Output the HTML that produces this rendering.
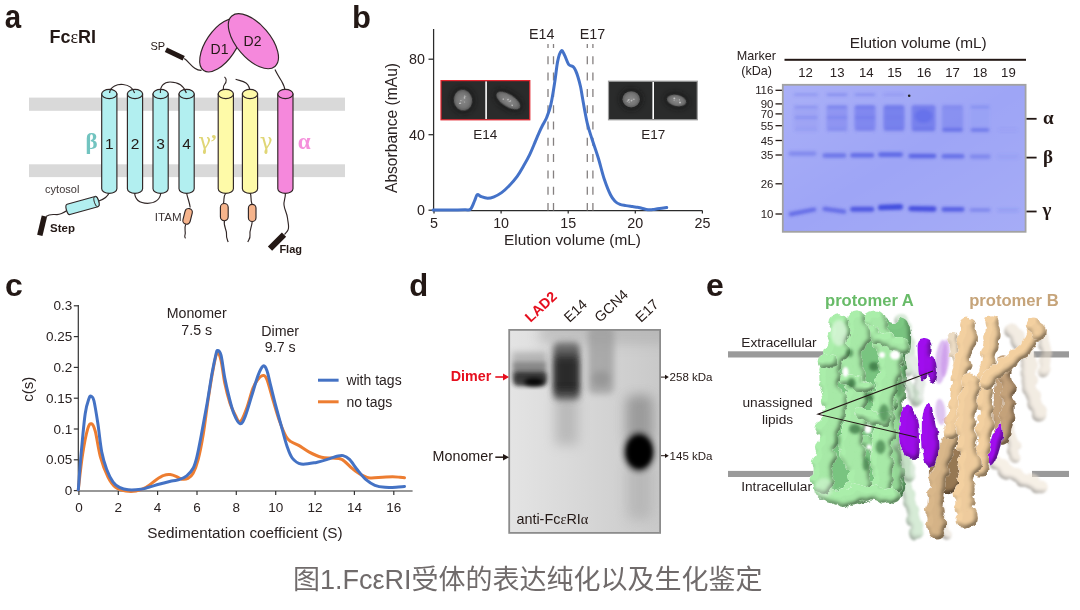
<!DOCTYPE html>
<html><head><meta charset="utf-8"><style>
html,body{margin:0;padding:0;background:#fff;}
body{width:1080px;height:610px;overflow:hidden;position:relative;}
svg{position:absolute;left:0;top:0;}
svg{font-family:'Liberation Sans', Arial, sans-serif;}
.cap{position:absolute;left:293px;top:560px;white-space:nowrap;font-family:'Liberation Sans','Noto Sans CJK SC',sans-serif;font-size:27px;line-height:40px;color:#706b6b;}
</style></head><body>
<svg width="1080" height="610" viewBox="0 0 1080 610">
<defs>
<radialGradient id="pgrad"><stop offset="0" stop-color="#8a8a8a"/><stop offset="0.7" stop-color="#747474"/><stop offset="1" stop-color="#5a5a5a"/></radialGradient>
<filter id="blur05" x="-20%" y="-20%" width="140%" height="140%"><feGaussianBlur stdDeviation="0.5"/></filter>
<filter id="blur2" x="-50%" y="-50%" width="200%" height="200%"><feGaussianBlur stdDeviation="2"/></filter>
<linearGradient id="gelgrad" x1="0" y1="0" x2="1" y2="1"><stop offset="0" stop-color="#fff" stop-opacity="0.12"/><stop offset="0.5" stop-color="#fff" stop-opacity="0"/><stop offset="1" stop-color="#fff" stop-opacity="0.08"/></linearGradient>
<filter id="gblur" x="-10%" y="-10%" width="120%" height="120%"><feGaussianBlur stdDeviation="1.4"/></filter>
<filter id="eblur" x="-10%" y="-10%" width="120%" height="120%"><feGaussianBlur stdDeviation="0.9"/></filter>
<filter id="shade3d" x="-8%" y="-8%" width="116%" height="116%">
  <feTurbulence type="fractalNoise" baseFrequency="0.11" numOctaves="2" seed="7" result="noise"/>
  <feDisplacementMap in="SourceGraphic" in2="noise" scale="6" xChannelSelector="R" yChannelSelector="G" result="disp"/>
  <feGaussianBlur in="disp" stdDeviation="2.4" result="blur"/>
  <feDiffuseLighting in="blur" surfaceScale="4.5" diffuseConstant="1" lighting-color="#fff" result="light"><feDistantLight azimuth="235" elevation="48"/></feDiffuseLighting>
  <feComponentTransfer in="light" result="light2"><feFuncR type="linear" slope="0.85" intercept="0.32"/><feFuncG type="linear" slope="0.85" intercept="0.32"/><feFuncB type="linear" slope="0.85" intercept="0.32"/></feComponentTransfer>
  <feComposite in="light2" in2="disp" operator="in" result="lightin"/>
  <feBlend in="disp" in2="lightin" mode="multiply" result="shaded"/>
  <feGaussianBlur in="shaded" stdDeviation="0.5"/>
</filter>
<filter id="shadeSoft" x="-5%" y="-5%" width="110%" height="110%">
  <feGaussianBlur in="SourceAlpha" stdDeviation="2.5" result="blur"/>
  <feDiffuseLighting in="blur" surfaceScale="3" diffuseConstant="1.35" lighting-color="#fff" result="light"><feDistantLight azimuth="300" elevation="50"/></feDiffuseLighting>
  <feComposite in="light" in2="SourceAlpha" operator="in" result="lightin"/>
  <feBlend in="SourceGraphic" in2="lightin" mode="multiply" result="shaded"/>
  <feGaussianBlur in="shaded" stdDeviation="1.2"/>
</filter>
<filter id="cblur" x="-50%" y="-50%" width="200%" height="200%"><feGaussianBlur stdDeviation="1.8"/></filter>
</defs>
<text transform="translate(4.7,27.6) scale(0.92,1.04)" font-size="32" font-weight="bold" fill="#231815">a</text>
<text x="49.5" y="42.5" font-size="18" font-weight="bold" fill="#231815">Fc<tspan font-family="'Liberation Serif', 'Times New Roman', serif" font-weight="normal">ε</tspan>RI</text>
<rect x="29" y="97.6" width="316" height="13.2" fill="#d9d9d9"/>
<rect x="29" y="164.3" width="316" height="12.8" fill="#d9d9d9"/>
<ellipse cx="220.8" cy="45.3" rx="30.5" ry="15" transform="rotate(-56 220.8 45.3)" fill="#f588dc" stroke="#302626" stroke-width="1.15"/>
<ellipse cx="253.4" cy="41.2" rx="33.2" ry="16.8" transform="rotate(49.5 253.4 41.2)" fill="#f588dc" stroke="#302626" stroke-width="1.15"/>
<text x="210.6" y="53.6" font-size="14" fill="#231815">D1</text>
<text x="243.6" y="45.6" font-size="14" fill="#231815">D2</text>
<text x="150.4" y="49.8" font-size="11" fill="#231815">SP</text>
<line x1="165.9" y1="49.8" x2="183.7" y2="58.3" stroke="#231815" stroke-width="5"/>
<g fill="none" stroke="#302626" stroke-width="1.15">
<path d="M184.2,58.6 C188,61 191,66 194.8,68.3 C197,69.8 199,70.5 201.5,70.4"/>
<path d="M275,69.5 C276.5,73 279,77 281.5,81 C284,85 285.2,88 285.4,93.5"/>
<path d="M225.8,93.5 C223,90 222.5,87 224.5,84.5 C226.5,82 226.8,79 224.5,76.8"/>
<path d="M250.2,93.5 C250,89 249,85 246,83 C243,81 239,80.5 235.6,79.2"/>
</g>
<g fill="none" stroke="#302626" stroke-width="1.15">
<path d="M134.6,192 C134.8,200 140.5,203.3 147.6,203.3 C154.5,203.3 160.6,200 160.8,192"/>
<path d="M109.3,192 C108,197 104,199.5 97.5,201.5"/>
<path d="M67.5,210.2 C64,212.5 61,214.5 57,214.6 C53,214.6 50,213.5 46,216.5"/>
<path d="M186.6,193 C187.5,198 189.5,202 190.2,207.5"/>
<path d="M185.7,224.5 C184,228 185.6,231 185.2,234 C184.8,236 184,237 185.5,238.4"/>
<path d="M225.8,193 C223,197 224.5,199 223.5,203.5"/>
<path d="M224.5,220.5 C223,226 227,230 226.5,234 C226,238 227.5,240 228.2,242"/>
<path d="M250.2,193 C252,197 250,199 252,204.3"/>
<path d="M252.2,221.5 C252,227 249,231 250,235 C250.5,238 248.5,240 247.8,242"/>
<path d="M285.4,193 C285.6,198 283.5,201 284,205 C284.5,210 287,213 287.5,218 C288,223 289.5,227 288,230 C287,232 285.5,233 284.5,234.5"/>
</g>
<path d="M101.7,94 L101.7,188.8 A7.6,4.6 0 0 0 116.9,188.8 L116.9,94 Z" fill="#b2eff0" stroke="#302626" stroke-width="1.15"/>
<ellipse cx="109.3" cy="94" rx="7.6" ry="4.6" fill="#b2eff0" stroke="#302626" stroke-width="1.15"/>
<path d="M127.4,94 L127.4,188.8 A7.6,4.6 0 0 0 142.6,188.8 L142.6,94 Z" fill="#b2eff0" stroke="#302626" stroke-width="1.15"/>
<ellipse cx="135.0" cy="94" rx="7.6" ry="4.6" fill="#b2eff0" stroke="#302626" stroke-width="1.15"/>
<path d="M153.0,94 L153.0,188.8 A7.6,4.6 0 0 0 168.2,188.8 L168.2,94 Z" fill="#b2eff0" stroke="#302626" stroke-width="1.15"/>
<ellipse cx="160.6" cy="94" rx="7.6" ry="4.6" fill="#b2eff0" stroke="#302626" stroke-width="1.15"/>
<path d="M179.0,94 L179.0,188.8 A7.6,4.6 0 0 0 194.2,188.8 L194.2,94 Z" fill="#b2eff0" stroke="#302626" stroke-width="1.15"/>
<ellipse cx="186.6" cy="94" rx="7.6" ry="4.6" fill="#b2eff0" stroke="#302626" stroke-width="1.15"/>
<path d="M218.2,94 L218.2,188.8 A7.6,4.6 0 0 0 233.4,188.8 L233.4,94 Z" fill="#fefaa8" stroke="#302626" stroke-width="1.15"/>
<ellipse cx="225.8" cy="94" rx="7.6" ry="4.6" fill="#fefaa8" stroke="#302626" stroke-width="1.15"/>
<path d="M242.4,94 L242.4,188.8 A7.6,4.6 0 0 0 257.6,188.8 L257.6,94 Z" fill="#fefaa8" stroke="#302626" stroke-width="1.15"/>
<ellipse cx="250.0" cy="94" rx="7.6" ry="4.6" fill="#fefaa8" stroke="#302626" stroke-width="1.15"/>
<path d="M277.8,94 L277.8,188.8 A7.6,4.6 0 0 0 293.0,188.8 L293.0,94 Z" fill="#f588dc" stroke="#302626" stroke-width="1.15"/>
<ellipse cx="285.4" cy="94" rx="7.6" ry="4.6" fill="#f588dc" stroke="#302626" stroke-width="1.15"/>
<g fill="none" stroke="#302626" stroke-width="1.15">
<path d="M109.6,93 C110,86 118,84 123,84.5 C128,85 133,88 134.6,93"/>
<path d="M160.4,93 C160,86 164,82 170,82 C178,82 184,86 186.4,93"/>
</g>
<text x="109.3" y="148.9" font-size="15.5" text-anchor="middle" fill="#231815">1</text>
<text x="135.0" y="148.9" font-size="15.5" text-anchor="middle" fill="#231815">2</text>
<text x="160.6" y="148.9" font-size="15.5" text-anchor="middle" fill="#231815">3</text>
<text x="186.6" y="148.9" font-size="15.5" text-anchor="middle" fill="#231815">4</text>
<text x="85.5" y="149" font-size="23" font-weight="bold" font-family="'Liberation Serif', 'Times New Roman', serif" fill="#72c4c0">β</text>
<text x="198.2" y="149" font-size="21.5" font-family="DejaVu Serif, serif" fill="#e0d676">γ<tspan dx="-1" font-family="Liberation Serif, serif" font-weight="bold" font-size="22">’</tspan></text>
<text x="259.8" y="149" font-size="21.5" font-family="DejaVu Serif, serif" fill="#e0d676">γ</text>
<text x="297.8" y="149" font-size="23" font-weight="bold" font-family="'Liberation Serif', 'Times New Roman', serif" fill="#f590dc">α</text>
<g transform="translate(82.5,205.5) rotate(-15.6)">
<path d="M-14.5,-5.3 L14.5,-5.3 A2.2,5.3 0 0 1 14.5,5.3 L-14.5,5.3 A2.2,5.3 0 0 1 -14.5,-5.3 Z" fill="#b2eff0" stroke="#302626" stroke-width="1.15"/>
<ellipse cx="14.5" cy="0" rx="2.2" ry="5.3" fill="#b2eff0" stroke="#302626" stroke-width="0.9"/>
</g>
<text x="45.1" y="192.8" font-size="11" fill="#3d3535">cytosol</text>
<line x1="44.4" y1="216.1" x2="39.8" y2="235.4" stroke="#231815" stroke-width="5.5"/>
<text x="50" y="231.5" font-size="11.5" font-weight="bold" fill="#231815">Step</text>
<rect x="-3.7" y="-8" width="7.4" height="16" rx="3.7" transform="translate(187.6,216.4) rotate(14)" fill="#f6b48c" stroke="#302626" stroke-width="1.15"/>
<rect x="220.4" y="203.5" width="7.8" height="17.2" rx="3.9" fill="#f6b48c" stroke="#302626" stroke-width="1.15"/>
<rect x="248.4" y="204.3" width="7.6" height="17.2" rx="3.8" fill="#f6b48c" stroke="#302626" stroke-width="1.15"/>
<text x="154.8" y="221.4" font-size="11.6" fill="#3d3535">ITAM</text>
<line x1="284" y1="234.6" x2="270" y2="248.7" stroke="#231815" stroke-width="6"/>
<text x="279.4" y="253.1" font-size="11" font-weight="bold" fill="#231815">Flag</text>
<text x="352" y="27.5" font-size="31" font-weight="bold" fill="#231815">b</text>
<g stroke="#2b2b2b" stroke-width="1.25" fill="none">
<path d="M433.6,29 L433.6,210.5 L702.5,210.5"/>
<line x1="428.5" y1="210.2" x2="434" y2="210.2"/>
<line x1="428.5" y1="134.7" x2="434" y2="134.7"/>
<line x1="428.5" y1="59.2" x2="434" y2="59.2"/>
<line x1="434.0" y1="210.6" x2="434.0" y2="213.5"/>
<line x1="501.1" y1="210.6" x2="501.1" y2="213.5"/>
<line x1="568.2" y1="210.6" x2="568.2" y2="213.5"/>
<line x1="635.3" y1="210.6" x2="635.3" y2="213.5"/>
<line x1="702.4" y1="210.6" x2="702.4" y2="213.5"/>
</g>
<text x="425" y="215.3" font-size="14.3" text-anchor="end" fill="#2a2222">0</text>
<text x="425" y="139.8" font-size="14.3" text-anchor="end" fill="#2a2222">40</text>
<text x="425" y="64.3" font-size="14.3" text-anchor="end" fill="#2a2222">80</text>
<text x="434.0" y="228" font-size="14.3" text-anchor="middle" fill="#2a2222">5</text>
<text x="501.1" y="228" font-size="14.3" text-anchor="middle" fill="#2a2222">10</text>
<text x="568.2" y="228" font-size="14.3" text-anchor="middle" fill="#2a2222">15</text>
<text x="635.3" y="228" font-size="14.3" text-anchor="middle" fill="#2a2222">20</text>
<text x="702.4" y="228" font-size="14.3" text-anchor="middle" fill="#2a2222">25</text>
<text x="572.5" y="245.4" font-size="15.4" text-anchor="middle" fill="#2a2222">Elution volume (mL)</text>
<text transform="translate(396.8,128) rotate(-90)" font-size="15.6" text-anchor="middle" fill="#2a2222">Absorbance (mAu)</text>
<g stroke="#858080" stroke-width="1.3" stroke-dasharray="8,8.3" stroke-dashoffset="4">
<line x1="548" y1="44" x2="548" y2="210.5"/>
<line x1="553.5" y1="44" x2="553.5" y2="210.5"/>
<line x1="587.3" y1="44" x2="587.3" y2="210.5"/>
<line x1="592.9" y1="44" x2="592.9" y2="210.5"/>
</g>
<text x="541.7" y="38.9" font-size="14.3" text-anchor="middle" fill="#2a2222">E14</text>
<text x="592.5" y="38.9" font-size="14.3" text-anchor="middle" fill="#2a2222">E17</text>
<path d="M433.1,210.0 C435.9,210.0 444.7,210.0 450.0,210.0 C455.3,210.0 461.6,209.9 465.0,209.8 C468.4,209.7 468.9,210.7 470.5,209.2 C472.1,207.7 473.4,203.4 474.5,201.0 C475.6,198.6 476.2,195.3 477.3,194.6 C478.4,193.8 479.3,195.9 481.0,196.5 C482.7,197.1 485.4,198.1 487.6,198.2 C489.8,198.2 491.7,197.7 494.0,196.8 C496.3,195.9 499.1,194.4 501.6,192.6 C504.1,190.8 506.4,188.7 509.0,186.0 C511.6,183.3 514.8,179.7 517.2,176.4 C519.6,173.1 521.4,169.6 523.5,166.0 C525.6,162.4 527.9,158.3 529.7,154.6 C531.5,150.8 533.0,147.1 534.5,143.5 C536.0,139.9 537.6,136.0 539.0,132.8 C540.4,129.6 541.7,127.1 543.0,124.5 C544.3,121.9 545.5,120.5 546.8,117.2 C548.1,113.9 549.5,110.5 550.8,104.8 C552.1,99.1 553.5,90.3 554.6,83.0 C555.8,75.7 556.6,66.5 557.7,61.1 C558.8,55.7 560.3,51.8 561.4,50.8 C562.5,49.8 563.3,52.8 564.5,55.0 C565.7,57.2 567.1,62.3 568.6,64.3 C570.1,66.3 572.1,65.7 573.3,66.8 C574.5,67.9 575.0,69.3 575.8,71.0 C576.6,72.7 577.1,74.1 577.9,76.7 C578.7,79.3 579.7,82.9 580.5,86.5 C581.3,90.1 581.5,92.3 582.6,98.5 C583.7,104.7 585.7,116.7 587.3,123.4 C588.9,130.2 590.2,133.3 592.0,139.0 C593.8,144.7 596.1,150.9 598.2,157.7 C600.3,164.4 602.3,173.3 604.4,179.5 C606.5,185.7 608.8,191.4 610.6,195.0 C612.4,198.6 613.4,199.6 615.0,201.2 C616.6,202.8 618.2,203.7 620.0,204.4 C621.8,205.1 623.9,205.2 626.0,205.6 C628.1,206.0 630.5,206.3 632.4,206.6 C634.3,206.9 635.9,206.9 637.5,207.2 C639.1,207.5 640.0,207.8 641.8,208.2 C643.5,208.6 646.1,209.5 648.0,209.7 C649.9,209.9 651.4,209.8 653.0,209.6 C654.6,209.4 655.1,209.2 657.4,208.8 C659.7,208.5 665.2,207.7 666.7,207.5" fill="none" stroke="#4472c8" stroke-width="3" stroke-linejoin="round" stroke-linecap="round"/>
<rect x="441" y="80.6" width="88.8" height="39.2" fill="#2a2b2b" stroke="#e2242d" stroke-width="1.2"/>
<rect x="485.3" y="81.4" width="1.6" height="37.6" fill="#fff"/>
<rect x="608.5" y="81.2" width="88.8" height="38.6" fill="#2a2b2b" stroke="#a0a0a0" stroke-width="1.2"/>
<rect x="652.4" y="82" width="1.6" height="37" fill="#fff"/>
<ellipse cx="463" cy="100.2" rx="12.8" ry="14.1" transform="rotate(-10 463 100.2)" fill="#141414" opacity="0.55" filter="url(#blur2)"/>
<ellipse cx="463" cy="100.2" rx="9.3" ry="10.6" transform="rotate(-10 463 100.2)" fill="url(#pgrad)" filter="url(#blur05)"/>
<circle cx="459.9" cy="102.8" r="0.81" fill="#c8c8c8" opacity="0.8" transform="rotate(-10 463 100.2)"/>
<circle cx="460.9" cy="100.2" r="0.68" fill="#c8c8c8" opacity="0.8" transform="rotate(-10 463 100.2)"/>
<circle cx="464.3" cy="102.3" r="0.54" fill="#c8c8c8" opacity="0.8" transform="rotate(-10 463 100.2)"/>
<circle cx="459.1" cy="102.7" r="0.67" fill="#c8c8c8" opacity="0.8" transform="rotate(-10 463 100.2)"/>
<circle cx="465.2" cy="96.5" r="0.68" fill="#c8c8c8" opacity="0.8" transform="rotate(-10 463 100.2)"/>
<circle cx="464.9" cy="98.2" r="0.88" fill="#c8c8c8" opacity="0.8" transform="rotate(-10 463 100.2)"/>
<circle cx="466.4" cy="96.7" r="0.51" fill="#c8c8c8" opacity="0.8" transform="rotate(-10 463 100.2)"/>
<ellipse cx="508.3" cy="100.5" rx="17.0" ry="9.8" transform="rotate(32 508.3 100.5)" fill="#141414" opacity="0.55" filter="url(#blur2)"/>
<ellipse cx="508.3" cy="100.5" rx="13.5" ry="6.3" transform="rotate(32 508.3 100.5)" fill="url(#pgrad)" filter="url(#blur05)"/>
<circle cx="513.8" cy="102.5" r="0.52" fill="#c8c8c8" opacity="0.8" transform="rotate(32 508.3 100.5)"/>
<circle cx="503.3" cy="102.0" r="0.79" fill="#c8c8c8" opacity="0.8" transform="rotate(32 508.3 100.5)"/>
<circle cx="510.4" cy="99.7" r="0.74" fill="#c8c8c8" opacity="0.8" transform="rotate(32 508.3 100.5)"/>
<circle cx="509.6" cy="100.9" r="0.56" fill="#c8c8c8" opacity="0.8" transform="rotate(32 508.3 100.5)"/>
<circle cx="507.5" cy="100.0" r="0.79" fill="#c8c8c8" opacity="0.8" transform="rotate(32 508.3 100.5)"/>
<circle cx="514.3" cy="102.5" r="0.72" fill="#c8c8c8" opacity="0.8" transform="rotate(32 508.3 100.5)"/>
<circle cx="507.6" cy="99.5" r="0.51" fill="#c8c8c8" opacity="0.8" transform="rotate(32 508.3 100.5)"/>
<ellipse cx="631.2" cy="99.3" rx="12.3" ry="11.6" transform="rotate(0 631.2 99.3)" fill="#141414" opacity="0.55" filter="url(#blur2)"/>
<ellipse cx="631.2" cy="99.3" rx="8.8" ry="8.1" transform="rotate(0 631.2 99.3)" fill="url(#pgrad)" filter="url(#blur05)"/>
<circle cx="629.1" cy="99.6" r="0.65" fill="#c8c8c8" opacity="0.8" transform="rotate(0 631.2 99.3)"/>
<circle cx="632.0" cy="100.0" r="0.53" fill="#c8c8c8" opacity="0.8" transform="rotate(0 631.2 99.3)"/>
<circle cx="627.3" cy="101.2" r="0.60" fill="#c8c8c8" opacity="0.8" transform="rotate(0 631.2 99.3)"/>
<circle cx="629.1" cy="102.1" r="0.69" fill="#c8c8c8" opacity="0.8" transform="rotate(0 631.2 99.3)"/>
<circle cx="633.9" cy="99.2" r="0.76" fill="#c8c8c8" opacity="0.8" transform="rotate(0 631.2 99.3)"/>
<circle cx="628.4" cy="100.1" r="0.85" fill="#c8c8c8" opacity="0.8" transform="rotate(0 631.2 99.3)"/>
<circle cx="631.4" cy="100.7" r="0.77" fill="#c8c8c8" opacity="0.8" transform="rotate(0 631.2 99.3)"/>
<ellipse cx="676.6" cy="100.5" rx="13.3" ry="9.3" transform="rotate(12 676.6 100.5)" fill="#141414" opacity="0.55" filter="url(#blur2)"/>
<ellipse cx="676.6" cy="100.5" rx="9.8" ry="5.8" transform="rotate(12 676.6 100.5)" fill="url(#pgrad)" filter="url(#blur05)"/>
<circle cx="674.3" cy="98.9" r="0.66" fill="#c8c8c8" opacity="0.8" transform="rotate(12 676.6 100.5)"/>
<circle cx="673.6" cy="98.7" r="0.66" fill="#c8c8c8" opacity="0.8" transform="rotate(12 676.6 100.5)"/>
<circle cx="680.3" cy="101.7" r="0.81" fill="#c8c8c8" opacity="0.8" transform="rotate(12 676.6 100.5)"/>
<circle cx="674.1" cy="100.6" r="0.61" fill="#c8c8c8" opacity="0.8" transform="rotate(12 676.6 100.5)"/>
<circle cx="673.7" cy="98.9" r="0.59" fill="#c8c8c8" opacity="0.8" transform="rotate(12 676.6 100.5)"/>
<circle cx="680.4" cy="101.8" r="0.82" fill="#c8c8c8" opacity="0.8" transform="rotate(12 676.6 100.5)"/>
<circle cx="679.2" cy="99.3" r="0.62" fill="#c8c8c8" opacity="0.8" transform="rotate(12 676.6 100.5)"/>
<text x="485.3" y="139" font-size="13.5" text-anchor="middle" fill="#2a2222">E14</text>
<text x="653.3" y="139" font-size="13.5" text-anchor="middle" fill="#2a2222">E17</text>
<text x="918.3" y="47.5" font-size="15.4" text-anchor="middle" fill="#2a2222">Elution volume (mL)</text>
<rect x="784.5" y="58.8" width="241.5" height="2" fill="#231815"/>
<text x="756.4" y="59.5" font-size="12.6" text-anchor="middle" fill="#2a2222">Marker</text>
<text x="756.6" y="75.3" font-size="12.6" text-anchor="middle" fill="#2a2222">(kDa)</text>
<text x="805.5" y="77.4" font-size="13.2" text-anchor="middle" fill="#2a2222">12</text>
<text x="837.2" y="77.4" font-size="13.2" text-anchor="middle" fill="#2a2222">13</text>
<text x="866.3" y="77.4" font-size="13.2" text-anchor="middle" fill="#2a2222">14</text>
<text x="894.5" y="77.4" font-size="13.2" text-anchor="middle" fill="#2a2222">15</text>
<text x="924" y="77.4" font-size="13.2" text-anchor="middle" fill="#2a2222">16</text>
<text x="952.6" y="77.4" font-size="13.2" text-anchor="middle" fill="#2a2222">17</text>
<text x="980" y="77.4" font-size="13.2" text-anchor="middle" fill="#2a2222">18</text>
<text x="1008.4" y="77.4" font-size="13.2" text-anchor="middle" fill="#2a2222">19</text>
<text x="773.3" y="94.3" font-size="11.4" text-anchor="end" fill="#2a2222">116</text>
<line x1="775.5" y1="90.3" x2="782" y2="90.3" stroke="#231815" stroke-width="1.3"/>
<text x="773.3" y="107.9" font-size="11.4" text-anchor="end" fill="#2a2222">90</text>
<line x1="775.5" y1="103.9" x2="782" y2="103.9" stroke="#231815" stroke-width="1.3"/>
<text x="773.3" y="117.9" font-size="11.4" text-anchor="end" fill="#2a2222">70</text>
<line x1="775.5" y1="113.9" x2="782" y2="113.9" stroke="#231815" stroke-width="1.3"/>
<text x="773.3" y="129.7" font-size="11.4" text-anchor="end" fill="#2a2222">55</text>
<line x1="775.5" y1="125.7" x2="782" y2="125.7" stroke="#231815" stroke-width="1.3"/>
<text x="773.3" y="144.5" font-size="11.4" text-anchor="end" fill="#2a2222">45</text>
<line x1="775.5" y1="140.5" x2="782" y2="140.5" stroke="#231815" stroke-width="1.3"/>
<text x="773.3" y="159.0" font-size="11.4" text-anchor="end" fill="#2a2222">35</text>
<line x1="775.5" y1="155" x2="782" y2="155" stroke="#231815" stroke-width="1.3"/>
<text x="773.3" y="187.8" font-size="11.4" text-anchor="end" fill="#2a2222">26</text>
<line x1="775.5" y1="183.8" x2="782" y2="183.8" stroke="#231815" stroke-width="1.3"/>
<text x="773.3" y="218.0" font-size="11.4" text-anchor="end" fill="#2a2222">10</text>
<line x1="775.5" y1="214" x2="782" y2="214" stroke="#231815" stroke-width="1.3"/>
<rect x="782.8" y="84.8" width="242.8" height="147" fill="#9ea5f6"/>
<rect x="782.8" y="84.8" width="242.8" height="147" fill="url(#gelgrad)"/>
<g filter="url(#gblur)">
<rect x="794.0" y="105" width="24" height="25" rx="3" fill="#5660e6" opacity="0.1"/>
<rect x="826.5" y="105" width="21" height="25" rx="3" fill="#5660e6" opacity="0.28"/>
<rect x="854.5" y="105" width="21" height="25" rx="3" fill="#5660e6" opacity="0.45"/>
<rect x="883.5" y="105" width="21" height="25" rx="3" fill="#5660e6" opacity="0.55"/>
<rect x="911.5" y="105" width="24" height="25" rx="3" fill="#5660e6" opacity="0.55"/>
<rect x="942.0" y="105" width="21" height="25" rx="3" fill="#5660e6" opacity="0.3"/>
<rect x="970.5" y="105" width="19" height="25" rx="3" fill="#5660e6" opacity="0.05"/>
<ellipse cx="923.5" cy="116" rx="9" ry="7" fill="#4a55e6" opacity="0.35"/>
<rect x="794.0" y="93.5" width="24" height="2.2" rx="1.1" fill="#4a55e0" opacity="0.3" transform="rotate(0 806 94.6)"/>
<rect x="826.5" y="93.5" width="21" height="2.2" rx="1.1" fill="#4a55e0" opacity="0.4" transform="rotate(0 837 94.6)"/>
<rect x="854.5" y="93.5" width="21" height="2.2" rx="1.1" fill="#4a55e0" opacity="0.35" transform="rotate(0 865 94.6)"/>
<rect x="883.5" y="93.5" width="21" height="2.2" rx="1.1" fill="#4a55e0" opacity="0.2" transform="rotate(0 894 94.6)"/>
<rect x="794.0" y="105.9" width="24" height="2.2" rx="1.1" fill="#4a55e0" opacity="0.25" transform="rotate(0 806 107)"/>
<rect x="826.5" y="105.9" width="21" height="2.2" rx="1.1" fill="#4a55e0" opacity="0.35" transform="rotate(0 837 107)"/>
<rect x="854.5" y="105.9" width="21" height="2.2" rx="1.1" fill="#4a55e0" opacity="0.3" transform="rotate(0 865 107)"/>
<rect x="883.5" y="105.9" width="21" height="2.2" rx="1.1" fill="#4a55e0" opacity="0.2" transform="rotate(0 894 107)"/>
<rect x="911.5" y="105.9" width="24" height="2.2" rx="1.1" fill="#4a55e0" opacity="0.1" transform="rotate(0 923.5 107)"/>
<rect x="942.0" y="105.9" width="21" height="2.2" rx="1.1" fill="#4a55e0" opacity="0.15" transform="rotate(0 952.5 107)"/>
<rect x="970.5" y="105.9" width="19" height="2.2" rx="1.1" fill="#4a55e0" opacity="0.3" transform="rotate(0 980 107)"/>
<rect x="794.0" y="116.4" width="24" height="2.2" rx="1.1" fill="#4a55e0" opacity="0.3" transform="rotate(0 806 117.5)"/>
<rect x="826.5" y="116.4" width="21" height="2.2" rx="1.1" fill="#4a55e0" opacity="0.3" transform="rotate(0 837 117.5)"/>
<rect x="854.5" y="116.4" width="21" height="2.2" rx="1.1" fill="#4a55e0" opacity="0.25" transform="rotate(0 865 117.5)"/>
<rect x="883.5" y="116.4" width="21" height="2.2" rx="1.1" fill="#4a55e0" opacity="0.1" transform="rotate(0 894 117.5)"/>
<rect x="794.0" y="128.2" width="24" height="3.6" rx="1.8" fill="#4a55e0" opacity="0.1" transform="rotate(0 806 130)"/>
<rect x="826.5" y="128.2" width="21" height="3.6" rx="1.8" fill="#4a55e0" opacity="0.2" transform="rotate(0 837 130)"/>
<rect x="854.5" y="128.2" width="21" height="3.6" rx="1.8" fill="#4a55e0" opacity="0.2" transform="rotate(0 865 130)"/>
<rect x="883.5" y="128.2" width="21" height="3.6" rx="1.8" fill="#4a55e0" opacity="0.25" transform="rotate(0 894 130)"/>
<rect x="911.5" y="128.2" width="24" height="3.6" rx="1.8" fill="#4a55e0" opacity="0.35" transform="rotate(0 923.5 130)"/>
<rect x="942.0" y="128.2" width="21" height="3.6" rx="1.8" fill="#4a55e0" opacity="0.6" transform="rotate(0 952.5 130)"/>
<rect x="970.5" y="128.2" width="19" height="3.6" rx="1.8" fill="#4a55e0" opacity="0.55" transform="rotate(0 980 130)"/>
<rect x="998.0" y="128.2" width="20" height="3.6" rx="1.8" fill="#4a55e0" opacity="0.06" transform="rotate(0 1008 130)"/>
<rect x="788.5" y="151.3" width="28" height="4.6" rx="2.3" fill="#4a55e0" opacity="0.35" transform="rotate(0 802.5 153.6)"/>
<rect x="822.4" y="153.2" width="24" height="4.6" rx="2.3" fill="#4a55e0" opacity="0.6" transform="rotate(0 834.4 155.5)"/>
<rect x="850.2" y="153.0" width="24" height="4.6" rx="2.3" fill="#4a55e0" opacity="0.7" transform="rotate(0 862.2 155.3)"/>
<rect x="878.0" y="152.3" width="25" height="4.6" rx="2.3" fill="#4a55e0" opacity="0.75" transform="rotate(0 890.5 154.6)"/>
<rect x="908.4" y="153.7" width="28" height="4.6" rx="2.3" fill="#4a55e0" opacity="0.8" transform="rotate(0 922.4 156)"/>
<rect x="941.5" y="153.9" width="23" height="4.6" rx="2.3" fill="#4a55e0" opacity="0.65" transform="rotate(0 953 156.2)"/>
<rect x="969.7" y="154.3" width="21" height="4.6" rx="2.3" fill="#4a55e0" opacity="0.35" transform="rotate(0 980.2 156.6)"/>
<rect x="997.0" y="154.3" width="22" height="4.6" rx="2.3" fill="#4a55e0" opacity="0.08" transform="rotate(0 1008 156.6)"/>
<rect x="788.5" y="209.7" width="28" height="4.2" rx="2.1" fill="#3b46dc" opacity="0.6" transform="rotate(-11 802.5 211.8)"/>
<rect x="822.4" y="208.2" width="24" height="4.2" rx="2.1" fill="#3b46dc" opacity="0.6" transform="rotate(8 834.4 210.3)"/>
<rect x="850.2" y="206.8" width="24" height="5" rx="2.5" fill="#3b46dc" opacity="0.8" transform="rotate(0 862.2 209.3)"/>
<rect x="878.0" y="204.4" width="25" height="5.6" rx="2.8" fill="#3b46dc" opacity="0.92" transform="rotate(-2 890.5 207.2)"/>
<rect x="908.4" y="206.1" width="28" height="5.4" rx="2.7" fill="#3b46dc" opacity="0.88" transform="rotate(1 922.4 208.8)"/>
<rect x="941.5" y="207.1" width="23" height="4.6" rx="2.3" fill="#3b46dc" opacity="0.72" transform="rotate(0 953 209.4)"/>
<rect x="969.7" y="208.2" width="21" height="3.6" rx="1.8" fill="#3b46dc" opacity="0.35" transform="rotate(0 980.2 210)"/>
<rect x="997.0" y="208.6" width="22" height="3.4" rx="1.7" fill="#3b46dc" opacity="0.12" transform="rotate(0 1008 210.3)"/>
</g>
<rect x="782.8" y="84.8" width="242.8" height="147" fill="none" stroke="#a2a2a2" stroke-width="1.8"/>
<circle cx="909.2" cy="95.7" r="1.3" fill="#222"/>
<line x1="1026.5" y1="118.8" x2="1036.6" y2="118.8" stroke="#231815" stroke-width="1.8"/>
<line x1="1026.5" y1="157.6" x2="1036.6" y2="157.6" stroke="#231815" stroke-width="1.8"/>
<line x1="1026.5" y1="211.5" x2="1036.6" y2="211.5" stroke="#231815" stroke-width="1.8"/>
<text x="1043" y="124.3" font-size="19" font-weight="bold" font-family="'Liberation Serif', 'Times New Roman', serif" fill="#231815">α</text>
<text x="1043" y="162.5" font-size="19" font-weight="bold" font-family="'Liberation Serif', 'Times New Roman', serif" fill="#231815">β</text>
<text x="1042.5" y="216" font-size="19" font-weight="bold" font-family="'Liberation Serif', 'Times New Roman', serif" fill="#231815">γ</text>
<text x="5" y="295.9" font-size="32" font-weight="bold" fill="#231815">c</text>
<g stroke="#333" stroke-width="1.2" fill="none">
<path d="M78.3,305 L78.3,491 L412.6,491"/>
<line x1="73.8" y1="490.6" x2="78.3" y2="490.6"/>
<line x1="73.8" y1="459.8" x2="78.3" y2="459.8"/>
<line x1="73.8" y1="429.0" x2="78.3" y2="429.0"/>
<line x1="73.8" y1="398.2" x2="78.3" y2="398.2"/>
<line x1="73.8" y1="367.4" x2="78.3" y2="367.4"/>
<line x1="73.8" y1="336.6" x2="78.3" y2="336.6"/>
<line x1="73.8" y1="305.8" x2="78.3" y2="305.8"/>
<line x1="78.9" y1="491" x2="78.9" y2="495"/>
<line x1="118.3" y1="491" x2="118.3" y2="495"/>
<line x1="157.6" y1="491" x2="157.6" y2="495"/>
<line x1="197.0" y1="491" x2="197.0" y2="495"/>
<line x1="236.3" y1="491" x2="236.3" y2="495"/>
<line x1="275.7" y1="491" x2="275.7" y2="495"/>
<line x1="315.1" y1="491" x2="315.1" y2="495"/>
<line x1="354.4" y1="491" x2="354.4" y2="495"/>
<line x1="393.8" y1="491" x2="393.8" y2="495"/>
</g>
<text x="72.3" y="495.2" font-size="13.5" text-anchor="end" fill="#2a2222">0</text>
<text x="72.3" y="464.4" font-size="13.5" text-anchor="end" fill="#2a2222">0.05</text>
<text x="72.3" y="433.6" font-size="13.5" text-anchor="end" fill="#2a2222">0.1</text>
<text x="72.3" y="402.8" font-size="13.5" text-anchor="end" fill="#2a2222">0.15</text>
<text x="72.3" y="372.0" font-size="13.5" text-anchor="end" fill="#2a2222">0.2</text>
<text x="72.3" y="341.2" font-size="13.5" text-anchor="end" fill="#2a2222">0.25</text>
<text x="72.3" y="310.4" font-size="13.5" text-anchor="end" fill="#2a2222">0.3</text>
<text x="78.9" y="512.4" font-size="13.5" text-anchor="middle" fill="#2a2222">0</text>
<text x="118.3" y="512.4" font-size="13.5" text-anchor="middle" fill="#2a2222">2</text>
<text x="157.6" y="512.4" font-size="13.5" text-anchor="middle" fill="#2a2222">4</text>
<text x="197.0" y="512.4" font-size="13.5" text-anchor="middle" fill="#2a2222">6</text>
<text x="236.3" y="512.4" font-size="13.5" text-anchor="middle" fill="#2a2222">8</text>
<text x="275.7" y="512.4" font-size="13.5" text-anchor="middle" fill="#2a2222">10</text>
<text x="315.1" y="512.4" font-size="13.5" text-anchor="middle" fill="#2a2222">12</text>
<text x="354.4" y="512.4" font-size="13.5" text-anchor="middle" fill="#2a2222">14</text>
<text x="393.8" y="512.4" font-size="13.5" text-anchor="middle" fill="#2a2222">16</text>
<text x="245" y="537.9" font-size="15.3" text-anchor="middle" fill="#2a2222">Sedimentation coefficient (S)</text>
<text transform="translate(33,389.3) rotate(-90)" font-size="15" text-anchor="middle" fill="#2a2222">c(s)</text>
<text x="196.7" y="317.8" font-size="14.2" text-anchor="middle" fill="#2a2222">Monomer</text>
<text x="196.7" y="335.1" font-size="14.2" text-anchor="middle" fill="#2a2222">7.5 s</text>
<text x="280.2" y="335.6" font-size="14.2" text-anchor="middle" fill="#2a2222">Dimer</text>
<text x="280.2" y="352.2" font-size="14.2" text-anchor="middle" fill="#2a2222">9.7 s</text>
<line x1="318" y1="380.2" x2="338.6" y2="380.2" stroke="#4472c4" stroke-width="3"/>
<line x1="318" y1="401.8" x2="338.6" y2="401.8" stroke="#ed7d31" stroke-width="3"/>
<text x="346.4" y="384.6" font-size="14" fill="#2a2222">with tags</text>
<text x="346.4" y="406.5" font-size="14" fill="#2a2222">no tags</text>
<path d="M78.3,489.8 C79.0,483.9 81.0,464.5 82.6,454.3 C84.2,444.1 86.2,434.0 87.7,428.9 C89.2,423.8 90.2,423.4 91.5,423.8 C92.8,424.2 93.8,425.9 95.3,431.4 C96.8,436.9 98.3,449.2 100.4,456.8 C102.5,464.4 105.5,472.0 108.0,477.1 C110.5,482.2 112.6,485.0 115.6,487.3 C118.6,489.6 122.4,490.4 125.8,491.0 C129.2,491.6 132.6,491.6 136.0,491.0 C139.4,490.4 142.7,489.2 146.1,487.3 C149.5,485.4 153.3,481.7 156.3,479.7 C159.3,477.7 161.6,476.2 163.9,475.4 C166.2,474.5 168.1,474.4 170.2,474.6 C172.3,474.8 174.7,475.8 176.6,476.6 C178.5,477.4 179.8,478.9 181.7,479.2 C183.6,479.5 186.1,479.4 188.0,478.4 C189.9,477.4 191.4,476.5 193.1,473.3 C194.8,470.1 196.5,465.9 198.2,459.4 C199.9,452.8 201.6,444.2 203.3,434.0 C205.0,423.8 206.6,409.4 208.3,398.4 C210.0,387.4 211.9,375.5 213.4,367.9 C214.9,360.3 215.9,354.0 217.2,352.7 C218.5,351.4 219.7,355.2 221.0,360.3 C222.3,365.4 223.3,376.1 224.8,383.2 C226.3,390.3 228.2,397.7 229.9,403.0 C231.6,408.3 233.5,411.8 235.2,414.9 C236.9,418.0 238.3,422.9 240.2,421.8 C242.1,420.8 244.5,414.2 246.6,408.6 C248.7,403.0 251.0,393.2 252.9,388.3 C254.8,383.4 256.3,381.5 258.0,379.4 C259.7,377.3 261.6,375.6 263.1,375.6 C264.6,375.6 265.2,375.2 266.9,379.4 C268.6,383.6 271.2,394.0 273.3,401.0 C275.4,408.0 277.5,415.4 279.6,421.3 C281.7,427.2 284.1,433.1 286.0,436.5 C287.9,439.9 288.9,440.1 291.0,441.6 C293.1,443.1 295.7,443.7 298.7,445.4 C301.7,447.1 305.0,449.8 308.8,451.8 C312.6,453.8 317.7,456.2 321.5,457.3 C325.3,458.4 328.3,457.8 331.7,458.1 C335.1,458.5 338.4,457.7 341.8,459.4 C345.2,461.1 348.8,465.8 352.0,468.3 C355.2,470.8 357.9,473.0 360.9,474.6 C363.9,476.2 366.2,477.5 369.8,477.9 C373.4,478.3 378.7,477.4 382.5,477.2 C386.3,477.0 389.7,476.7 392.6,476.7 C395.5,476.7 398.0,477.1 400.0,477.3 C402.0,477.5 403.8,477.7 404.5,477.8" fill="none" stroke="#ed7d31" stroke-width="3" stroke-linejoin="round" stroke-linecap="round"/>
<path d="M78.3,489.8 C78.8,483.4 80.1,464.4 81.3,451.7 C82.5,439.0 83.9,422.6 85.2,413.7 C86.5,404.8 88.0,401.3 89.0,398.4 C90.0,395.5 90.7,396.0 91.5,396.4 C92.3,396.8 92.9,396.4 94.0,401.0 C95.1,405.6 96.6,415.4 97.9,423.8 C99.2,432.2 100.2,444.1 101.7,451.7 C103.2,459.3 104.8,464.4 106.7,469.5 C108.6,474.6 111.0,479.2 113.1,482.2 C115.2,485.2 116.9,486.0 119.4,487.3 C121.9,488.6 124.7,489.5 128.3,489.8 C131.9,490.1 137.6,489.7 141.0,489.3 C144.4,488.9 145.7,488.1 148.7,487.3 C151.7,486.5 155.0,485.4 158.8,484.3 C162.6,483.2 168.1,481.8 171.5,481.0 C174.9,480.2 176.6,480.6 179.1,479.7 C181.6,478.8 184.4,477.8 186.7,475.9 C189.0,474.0 191.4,471.5 193.1,468.3 C194.8,465.1 195.4,463.0 196.9,456.8 C198.4,450.6 200.3,440.3 202.0,431.4 C203.7,422.5 205.4,413.2 207.1,403.5 C208.8,393.8 210.6,381.2 212.1,373.0 C213.6,364.8 215.1,357.8 216.0,354.0 C216.9,350.2 216.9,350.3 217.7,350.5 C218.5,350.7 219.8,350.6 221.0,355.2 C222.2,359.8 223.5,371.3 224.8,378.1 C226.1,384.9 227.3,390.0 228.8,395.9 C230.3,401.8 232.0,409.0 233.9,413.7 C235.8,418.4 238.3,423.4 240.2,423.8 C242.1,424.2 243.4,420.9 245.3,416.2 C247.2,411.5 249.6,402.7 251.7,395.9 C253.8,389.1 256.1,380.6 258.0,375.6 C259.9,370.6 261.6,366.9 263.1,366.0 C264.6,365.1 265.6,367.2 266.9,370.5 C268.2,373.8 269.2,379.8 270.7,385.7 C272.2,391.6 273.9,398.8 275.8,406.0 C277.7,413.2 280.2,422.1 282.1,428.9 C284.0,435.7 285.5,441.8 287.2,446.7 C288.9,451.6 290.0,455.2 292.3,458.1 C294.6,461.0 297.2,463.3 301.2,464.0 C305.2,464.7 311.8,463.2 316.4,462.4 C321.0,461.5 325.7,459.9 329.1,458.9 C332.5,457.9 334.5,456.9 336.8,456.3 C339.1,455.8 341.0,455.1 343.1,455.6 C345.2,456.1 347.2,457.1 349.5,459.4 C351.8,461.7 354.4,466.1 357.1,469.5 C359.9,472.9 363.0,477.1 366.0,479.7 C369.0,482.3 371.7,484.0 374.9,485.3 C378.1,486.6 381.5,487.0 385.0,487.3 C388.5,487.6 392.8,487.4 396.0,487.2 C399.2,487.0 403.1,486.5 404.5,486.4" fill="none" stroke="#4472c4" stroke-width="3" stroke-linejoin="round" stroke-linecap="round"/>
<text x="409.3" y="296" font-size="31" font-weight="bold" fill="#231815">d</text>
<text transform="translate(530.5,323) rotate(-43)" font-size="14.3" font-weight="bold" fill="#e60f1e">LAD2</text>
<text transform="translate(569.5,323) rotate(-43)" font-size="14.3" font-weight="normal" fill="#231815">E14</text>
<text transform="translate(600,323) rotate(-43)" font-size="14.3" font-weight="normal" fill="#231815">GCN4</text>
<text transform="translate(641,323) rotate(-43)" font-size="14.3" font-weight="normal" fill="#231815">E17</text>
<defs><clipPath id="blotclip"><rect x="509.2" y="329.9" width="150.9" height="203"/></clipPath><linearGradient id="blotbg" x1="0" y1="0" x2="1" y2="0"><stop offset="0" stop-color="#e4e4e4"/><stop offset="0.45" stop-color="#d8d8d8"/><stop offset="1" stop-color="#c9c9c9"/></linearGradient><filter id="bb6" x="-50%" y="-50%" width="200%" height="200%"><feGaussianBlur stdDeviation="6"/></filter><filter id="bb3" x="-50%" y="-50%" width="200%" height="200%"><feGaussianBlur stdDeviation="3"/></filter><filter id="bb2" x="-50%" y="-50%" width="200%" height="200%"><feGaussianBlur stdDeviation="2"/></filter></defs>
<g clip-path="url(#blotclip)">
<rect x="509.2" y="329.9" width="150.9" height="203" fill="url(#blotbg)"/>
<rect x="540" y="318" width="130" height="26" fill="#a8a8a8" opacity="0.5" filter="url(#bb6)"/>
<rect x="512" y="352" width="35" height="26" fill="#8a8a8a" opacity="0.5" filter="url(#bb3)"/>
<rect x="513" y="362" width="33" height="14" fill="#555" opacity="0.45" filter="url(#bb2)"/>
<rect x="513" y="372" width="34" height="14" rx="5" fill="#222" opacity="0.85" filter="url(#bb2)"/>
<ellipse cx="534" cy="382" rx="10" ry="4" fill="#000" opacity="0.9" filter="url(#bb2)"/>
<rect x="555" y="395" width="23" height="50" fill="#a0a0a0" opacity="0.55" filter="url(#bb6)"/>
<defs><linearGradient id="e14g" x1="0" y1="0" x2="0" y2="1"><stop offset="0" stop-color="#707070"/><stop offset="0.3" stop-color="#262626"/><stop offset="0.8" stop-color="#1e1e1e"/><stop offset="1" stop-color="#555"/></linearGradient></defs>
<rect x="553" y="342" width="27" height="58" rx="6" fill="url(#e14g)" opacity="0.85" filter="url(#bb3)"/>
<rect x="556" y="358" width="21" height="32" fill="#1a1a1a" opacity="0.55" filter="url(#bb3)"/>
<rect x="588" y="326" width="26" height="68" rx="6" fill="#9a9a9a" opacity="0.72" filter="url(#bb3)"/>
<ellipse cx="601" cy="379" rx="9" ry="8" fill="#777" opacity="0.35" filter="url(#bb3)"/>
<rect x="626" y="395" width="27" height="50" rx="8" fill="#7a7a7a" opacity="0.6" filter="url(#bb6)"/>
<rect x="627" y="460" width="25" height="60" rx="8" fill="#a8a8a8" opacity="0.55" filter="url(#bb6)"/>
<ellipse cx="639" cy="452" rx="14.5" ry="18.5" fill="#000" opacity="0.95" filter="url(#bb3)"/>
<ellipse cx="639.5" cy="452" rx="11.5" ry="14.5" fill="#000" filter="url(#bb2)"/>
</g>
<rect x="509.2" y="329.9" width="150.9" height="203" fill="none" stroke="#8c8c8c" stroke-width="1.8"/>
<text x="516.4" y="524.2" font-size="14.4" fill="#231815">anti-Fc<tspan font-family="'Liberation Serif', 'Times New Roman', serif">ε</tspan>RI<tspan font-family="'Liberation Serif', 'Times New Roman', serif">α</tspan></text>
<text x="450.8" y="380.9" font-size="14.3" font-weight="bold" fill="#e60f1e">Dimer</text>
<line x1="495.3" y1="377" x2="505" y2="377" stroke="#e60f1e" stroke-width="1.6"/>
<path d="M503,373.6 L509,377 L503,380.4 Z" fill="#e60f1e"/>
<text x="432.6" y="461.1" font-size="14.3" fill="#231815">Monomer</text>
<line x1="495.3" y1="457.2" x2="505" y2="457.2" stroke="#231815" stroke-width="1.5"/>
<path d="M503,454 L509,457.2 L503,460.4 Z" fill="#231815"/>
<line x1="661" y1="377.1" x2="666" y2="377.1" stroke="#231815" stroke-width="1"/>
<path d="M665,374.8 L668.8,377.1 L665,379.4 Z" fill="#231815"/>
<text x="669.6" y="380.9" font-size="11.5" fill="#231815">258 kDa</text>
<line x1="661" y1="455.7" x2="666" y2="455.7" stroke="#231815" stroke-width="1"/>
<path d="M665,453.4 L668.8,455.7 L665,458.0 Z" fill="#231815"/>
<text x="669.6" y="459.5" font-size="11.5" fill="#231815">145 kDa</text>
<text x="706" y="295.9" font-size="32" font-weight="bold" fill="#231815">e</text>
<text x="825" y="306" font-size="16.6" font-weight="bold" fill="#68bb68">protomer A</text>
<text x="969.2" y="306" font-size="16.6" font-weight="bold" fill="#c6a47a">protomer B</text>
<g fill="#9a9a9a">
<rect x="728" y="351.3" width="100.7" height="6.2"/>
<rect x="1033.7" y="351.3" width="35.3" height="6.2"/>
<rect x="728" y="470.9" width="103.2" height="6.1"/>
<rect x="1032" y="470.9" width="37" height="6.1"/>
</g>
<text x="741.3" y="347.2" font-size="13.7" fill="#2a2222">Extracellular</text>
<text x="741.2" y="491.2" font-size="13.7" fill="#2a2222">Intracellular</text>
<text x="777.5" y="407.1" font-size="13.7" text-anchor="middle" fill="#2a2222">unassigned</text>
<text x="777.5" y="423.7" font-size="13.7" text-anchor="middle" fill="#2a2222">lipids</text>
<g filter="url(#shadeSoft)" opacity="0.55">
<path d="M902.0,320.0 C902.7,322.7 904.8,330.7 906.0,336.0 C907.2,341.3 909.0,346.3 909.0,352.0 C909.0,357.7 906.5,367.0 906.0,370.0" fill="none" stroke="#b9d9b9" stroke-width="12" stroke-linecap="round" stroke-linejoin="round"/>
<circle cx="900.6" cy="320.3" r="6.4" fill="#b9d9b9"/>
<circle cx="905.3" cy="327.4" r="6.4" fill="#b9d9b9"/>
<circle cx="904.5" cy="335.9" r="6.6" fill="#b9d9b9"/>
<circle cx="908.8" cy="343.1" r="6.4" fill="#b9d9b9"/>
<circle cx="907.4" cy="351.5" r="6.4" fill="#b9d9b9"/>
<circle cx="909.2" cy="359.4" r="6.4" fill="#b9d9b9"/>
<circle cx="905.1" cy="366.8" r="6.3" fill="#b9d9b9"/>
<circle cx="907.4" cy="370.0" r="6.4" fill="#b9d9b9"/>
<ellipse cx="903.8" cy="359.3" rx="6.9" ry="4.3" transform="rotate(99 903.8 359.3)" fill="#b9d9b9"/>
<path d="M898.0,440.0 C899.0,443.7 902.7,454.5 904.0,462.0 C905.3,469.5 904.7,477.0 906.0,485.0 C907.3,493.0 910.0,502.0 912.0,510.0 C914.0,518.0 917.0,529.2 918.0,533.0" fill="none" stroke="#b4dab4" stroke-width="11" stroke-linecap="round" stroke-linejoin="round"/>
<circle cx="896.7" cy="440.3" r="5.8" fill="#b4dab4"/>
<circle cx="901.4" cy="447.4" r="5.9" fill="#b4dab4"/>
<circle cx="900.9" cy="455.8" r="5.9" fill="#b4dab4"/>
<circle cx="905.4" cy="463.1" r="5.7" fill="#b4dab4"/>
<circle cx="903.5" cy="471.3" r="5.7" fill="#b4dab4"/>
<circle cx="906.8" cy="479.0" r="5.8" fill="#b4dab4"/>
<circle cx="905.2" cy="487.4" r="5.8" fill="#b4dab4"/>
<circle cx="909.6" cy="494.5" r="6.0" fill="#b4dab4"/>
<circle cx="908.9" cy="502.9" r="5.9" fill="#b4dab4"/>
<circle cx="913.4" cy="510.1" r="5.9" fill="#b4dab4"/>
<circle cx="912.8" cy="518.5" r="5.9" fill="#b4dab4"/>
<circle cx="917.4" cy="525.5" r="5.9" fill="#b4dab4"/>
<circle cx="916.7" cy="533.0" r="5.7" fill="#b4dab4"/>
<ellipse cx="905.5" cy="452.1" rx="5.4" ry="3.4" transform="rotate(75 905.5 452.1)" fill="#b4dab4"/>
<ellipse cx="899.6" cy="466.8" rx="4.1" ry="4.3" transform="rotate(85 899.6 466.8)" fill="#b4dab4"/>
<ellipse cx="909.3" cy="521.0" rx="5.0" ry="3.3" transform="rotate(75 909.3 521.0)" fill="#b4dab4"/>
<ellipse cx="912.9" cy="534.2" rx="6.5" ry="3.9" transform="rotate(75 912.9 534.2)" fill="#b4dab4"/>
<path d="M914.0,360.0 C915.0,363.3 919.3,373.3 920.0,380.0 C920.7,386.7 918.3,396.7 918.0,400.0" fill="none" stroke="#d0dcd0" stroke-width="9" stroke-linecap="round" stroke-linejoin="round"/>
<circle cx="913.0" cy="360.3" r="4.7" fill="#d0dcd0"/>
<circle cx="917.3" cy="367.4" r="4.9" fill="#d0dcd0"/>
<circle cx="917.6" cy="375.6" r="4.9" fill="#d0dcd0"/>
<circle cx="920.8" cy="383.2" r="4.9" fill="#d0dcd0"/>
<circle cx="917.8" cy="391.0" r="4.7" fill="#d0dcd0"/>
<circle cx="919.2" cy="399.1" r="4.7" fill="#d0dcd0"/>
<circle cx="916.9" cy="400.0" r="4.7" fill="#d0dcd0"/>
<ellipse cx="920.7" cy="372.2" rx="3.6" ry="3.2" transform="rotate(73 920.7 372.2)" fill="#d0dcd0"/>
<ellipse cx="916.5" cy="386.0" rx="5.4" ry="3.4" transform="rotate(96 916.5 386.0)" fill="#d0dcd0"/>
<path d="M1012.0,330.0 C1013.7,332.5 1019.0,339.7 1022.0,345.0 C1025.0,350.3 1029.0,355.8 1030.0,362.0 C1031.0,368.2 1027.3,375.7 1028.0,382.0 C1028.7,388.3 1032.0,394.5 1034.0,400.0 C1036.0,405.5 1039.0,412.5 1040.0,415.0" fill="none" stroke="#e8dccb" stroke-width="13" stroke-linecap="round" stroke-linejoin="round"/>
<circle cx="1010.7" cy="330.9" r="6.7" fill="#e8dccb"/>
<circle cx="1017.7" cy="335.8" r="7.0" fill="#e8dccb"/>
<circle cx="1019.6" cy="344.2" r="7.0" fill="#e8dccb"/>
<circle cx="1026.0" cy="349.7" r="7.1" fill="#e8dccb"/>
<circle cx="1026.5" cy="358.3" r="6.8" fill="#e8dccb"/>
<circle cx="1031.2" cy="365.3" r="6.8" fill="#e8dccb"/>
<circle cx="1027.3" cy="373.0" r="7.0" fill="#e8dccb"/>
<circle cx="1029.6" cy="381.2" r="7.0" fill="#e8dccb"/>
<circle cx="1028.8" cy="389.2" r="6.8" fill="#e8dccb"/>
<circle cx="1034.2" cy="395.8" r="7.0" fill="#e8dccb"/>
<circle cx="1034.1" cy="404.4" r="6.9" fill="#e8dccb"/>
<circle cx="1039.9" cy="410.7" r="7.0" fill="#e8dccb"/>
<circle cx="1038.4" cy="415.0" r="6.7" fill="#e8dccb"/>
<ellipse cx="1015.5" cy="344.0" rx="7.2" ry="4.1" transform="rotate(56 1015.5 344.0)" fill="#e8dccb"/>
<ellipse cx="1025.3" cy="365.5" rx="4.9" ry="4.8" transform="rotate(96 1025.3 365.5)" fill="#e8dccb"/>
<ellipse cx="1032.8" cy="380.0" rx="5.8" ry="5.2" transform="rotate(96 1032.8 380.0)" fill="#e8dccb"/>
<path d="M1040.0,330.0 C1041.0,333.3 1045.3,343.0 1046.0,350.0 C1046.7,357.0 1044.3,368.3 1044.0,372.0" fill="none" stroke="#e8dccb" stroke-width="10" stroke-linecap="round" stroke-linejoin="round"/>
<circle cx="1038.9" cy="330.3" r="5.5" fill="#e8dccb"/>
<circle cx="1043.4" cy="337.3" r="5.2" fill="#e8dccb"/>
<circle cx="1043.4" cy="345.7" r="5.4" fill="#e8dccb"/>
<circle cx="1046.9" cy="353.2" r="5.2" fill="#e8dccb"/>
<circle cx="1043.8" cy="361.0" r="5.5" fill="#e8dccb"/>
<circle cx="1045.5" cy="369.1" r="5.2" fill="#e8dccb"/>
<circle cx="1042.8" cy="372.0" r="5.5" fill="#e8dccb"/>
<path d="M996.0,462.0 C998.3,463.7 1005.3,469.0 1010.0,472.0 C1014.7,475.0 1019.0,477.5 1024.0,480.0 C1029.0,482.5 1037.3,485.8 1040.0,487.0" fill="none" stroke="#efe3d2" stroke-width="12" stroke-linecap="round" stroke-linejoin="round"/>
<circle cx="995.2" cy="463.2" r="6.3" fill="#efe3d2"/>
<circle cx="1003.3" cy="465.5" r="6.4" fill="#efe3d2"/>
<circle cx="1008.2" cy="472.5" r="6.4" fill="#efe3d2"/>
<circle cx="1016.6" cy="474.1" r="6.4" fill="#efe3d2"/>
<circle cx="1022.1" cy="480.6" r="6.4" fill="#efe3d2"/>
<circle cx="1030.7" cy="481.4" r="6.5" fill="#efe3d2"/>
<circle cx="1036.9" cy="487.2" r="6.3" fill="#efe3d2"/>
<circle cx="1041.4" cy="487.0" r="6.4" fill="#efe3d2"/>
<ellipse cx="1003.8" cy="474.4" rx="7.1" ry="4.5" transform="rotate(36 1003.8 474.4)" fill="#efe3d2"/>
<ellipse cx="1033.2" cy="477.6" rx="6.9" ry="3.8" transform="rotate(24 1033.2 477.6)" fill="#efe3d2"/>
<path d="M942.0,470.0 C941.0,474.0 936.3,486.0 936.0,494.0 C935.7,502.0 938.3,511.2 940.0,518.0 C941.7,524.8 945.0,532.2 946.0,535.0" fill="none" stroke="#e6ddd0" stroke-width="9" stroke-linecap="round" stroke-linejoin="round"/>
<circle cx="941.0" cy="469.7" r="4.8" fill="#e6ddd0"/>
<circle cx="941.1" cy="478.0" r="4.9" fill="#e6ddd0"/>
<circle cx="937.1" cy="485.3" r="4.9" fill="#e6ddd0"/>
<circle cx="937.2" cy="493.5" r="4.7" fill="#e6ddd0"/>
<circle cx="936.1" cy="501.3" r="4.9" fill="#e6ddd0"/>
<circle cx="939.6" cy="508.9" r="4.9" fill="#e6ddd0"/>
<circle cx="938.8" cy="517.1" r="4.8" fill="#e6ddd0"/>
<circle cx="943.3" cy="524.2" r="4.7" fill="#e6ddd0"/>
<circle cx="944.0" cy="532.4" r="4.6" fill="#e6ddd0"/>
<circle cx="947.1" cy="535.0" r="4.8" fill="#e6ddd0"/>
<ellipse cx="932.6" cy="497.1" rx="4.8" ry="3.4" transform="rotate(81 932.6 497.1)" fill="#e6ddd0"/>
<ellipse cx="941.6" cy="509.4" rx="3.6" ry="3.5" transform="rotate(81 941.6 509.4)" fill="#e6ddd0"/>
<path d="M1005.0,420.0 C1006.2,423.3 1010.5,433.7 1012.0,440.0 C1013.5,446.3 1013.7,455.0 1014.0,458.0" fill="none" stroke="#e8dccb" stroke-width="10" stroke-linecap="round" stroke-linejoin="round"/>
<circle cx="1003.9" cy="420.4" r="5.2" fill="#e8dccb"/>
<circle cx="1008.8" cy="427.2" r="5.4" fill="#e8dccb"/>
<circle cx="1009.2" cy="435.5" r="5.3" fill="#e8dccb"/>
<circle cx="1013.5" cy="442.7" r="5.2" fill="#e8dccb"/>
<circle cx="1012.0" cy="450.9" r="5.3" fill="#e8dccb"/>
<circle cx="1015.2" cy="458.0" r="5.3" fill="#e8dccb"/>
<ellipse cx="1005.0" cy="434.4" rx="5.7" ry="3.1" transform="rotate(71 1005.0 434.4)" fill="#e8dccb"/>
<ellipse cx="1017.4" cy="445.5" rx="4.1" ry="4.1" transform="rotate(84 1017.4 445.5)" fill="#e8dccb"/>
</g>
<g filter="url(#eblur)" opacity="0.55">
<ellipse cx="945.5" cy="358" rx="4" ry="19" fill="#c78be6" transform="rotate(6 945.5 358)"/>
</g>
<g filter="url(#shade3d)">
<path d="M834.0,326.0 C835.2,323.0 837.3,320.7 840.0,320.0 C842.7,319.3 847.0,322.3 850.0,322.0 C853.0,321.7 855.3,318.3 858.0,318.0 C860.7,317.7 863.7,320.3 866.0,320.0 C868.3,319.7 869.0,316.3 872.0,316.0 C875.0,315.7 880.5,317.0 884.0,318.0 C887.5,319.0 890.3,322.0 893.0,322.0 C895.7,322.0 897.5,318.0 900.0,318.0 C902.5,318.0 906.2,319.2 908.0,322.0 C909.8,324.8 910.7,330.3 911.0,335.0 C911.3,339.7 911.0,346.2 910.0,350.0 C909.0,353.8 905.5,353.8 905.0,358.0 C904.5,362.2 907.0,369.3 907.0,375.0 C907.0,380.7 906.2,387.5 905.0,392.0 C903.8,396.5 900.5,397.3 900.0,402.0 C899.5,406.7 902.0,413.7 902.0,420.0 C902.0,426.3 900.0,433.3 900.0,440.0 C900.0,446.7 901.3,454.0 902.0,460.0 C902.7,466.0 903.5,471.0 904.0,476.0 C904.5,481.0 905.7,486.3 905.0,490.0 C904.3,493.7 902.5,496.7 900.0,498.0 C897.5,499.3 893.7,498.7 890.0,498.0 C886.3,497.3 882.2,494.8 878.0,494.0 C873.8,493.2 869.3,492.5 865.0,493.0 C860.7,493.5 856.5,495.5 852.0,497.0 C847.5,498.5 843.0,501.5 838.0,502.0 C833.0,502.5 825.8,501.7 822.0,500.0 C818.2,498.3 815.8,495.7 815.0,492.0 C814.2,488.3 815.8,482.3 817.0,478.0 C818.2,473.7 820.5,471.5 822.0,466.0 C823.5,460.5 825.0,451.8 826.0,445.0 C827.0,438.2 828.0,431.7 828.0,425.0 C828.0,418.3 826.7,411.7 826.0,405.0 C825.3,398.3 824.5,391.2 824.0,385.0 C823.5,378.8 823.5,372.2 823.0,368.0 C822.5,363.8 820.0,363.0 821.0,360.0 C822.0,357.0 827.0,353.7 829.0,350.0 C831.0,346.3 832.2,342.0 833.0,338.0 C833.8,334.0 832.8,329.0 834.0,326.0Z" fill="#7cc882"/>
</g>
<g filter="url(#shade3d)">
<path d="M896.0,354.0 C895.7,357.0 893.7,366.0 894.0,372.0 C894.3,378.0 898.0,383.7 898.0,390.0 C898.0,396.3 894.3,403.3 894.0,410.0 C893.7,416.7 896.3,423.3 896.0,430.0 C895.7,436.7 892.0,443.3 892.0,450.0 C892.0,456.7 895.8,463.3 896.0,470.0 C896.2,476.7 893.5,486.7 893.0,490.0" fill="none" stroke="#97dc99" stroke-width="13" stroke-linecap="round" stroke-linejoin="round"/>
<circle cx="894.4" cy="353.8" r="7.0" fill="#97dc99"/>
<circle cx="896.7" cy="362.1" r="7.0" fill="#97dc99"/>
<circle cx="892.7" cy="369.7" r="7.1" fill="#97dc99"/>
<circle cx="896.8" cy="377.4" r="7.1" fill="#97dc99"/>
<circle cx="895.5" cy="385.9" r="7.0" fill="#97dc99"/>
<circle cx="898.9" cy="393.7" r="7.1" fill="#97dc99"/>
<circle cx="894.2" cy="400.9" r="6.7" fill="#97dc99"/>
<circle cx="895.7" cy="409.4" r="6.9" fill="#97dc99"/>
<circle cx="893.1" cy="417.2" r="7.1" fill="#97dc99"/>
<circle cx="897.1" cy="424.8" r="7.0" fill="#97dc99"/>
<circle cx="893.9" cy="432.6" r="7.1" fill="#97dc99"/>
<circle cx="895.4" cy="441.0" r="6.7" fill="#97dc99"/>
<circle cx="890.8" cy="448.3" r="6.9" fill="#97dc99"/>
<circle cx="894.8" cy="456.1" r="6.8" fill="#97dc99"/>
<circle cx="893.3" cy="464.6" r="6.9" fill="#97dc99"/>
<circle cx="897.2" cy="472.4" r="7.0" fill="#97dc99"/>
<circle cx="892.9" cy="479.8" r="6.7" fill="#97dc99"/>
<circle cx="894.8" cy="488.2" r="6.8" fill="#97dc99"/>
<circle cx="891.4" cy="490.0" r="6.8" fill="#97dc99"/>
<ellipse cx="901.3" cy="395.0" rx="5.0" ry="4.8" transform="rotate(101 901.3 395.0)" fill="#97dc99"/>
<ellipse cx="898.9" cy="408.4" rx="7.7" ry="4.0" transform="rotate(101 898.9 408.4)" fill="#97dc99"/>
<ellipse cx="900.3" cy="435.5" rx="5.2" ry="4.9" transform="rotate(101 900.3 435.5)" fill="#97dc99"/>
</g>
<g filter="url(#shade3d)">
<path d="M866.0,440.0 C867.7,442.0 872.3,448.3 876.0,452.0 C879.7,455.7 886.0,460.3 888.0,462.0" fill="none" stroke="#97dc99" stroke-width="10" stroke-linecap="round" stroke-linejoin="round"/>
<circle cx="865.1" cy="440.8" r="5.3" fill="#97dc99"/>
<circle cx="872.0" cy="445.4" r="5.3" fill="#97dc99"/>
<circle cx="875.5" cy="453.2" r="5.2" fill="#97dc99"/>
<circle cx="883.2" cy="456.4" r="5.5" fill="#97dc99"/>
<circle cx="886.8" cy="462.0" r="5.2" fill="#97dc99"/>
<ellipse cx="877.5" cy="448.1" rx="5.3" ry="4.1" transform="rotate(50 877.5 448.1)" fill="#97dc99"/>
</g>
<g filter="url(#shade3d)">
<path d="M872.0,395.0 C873.7,396.2 878.7,400.5 882.0,402.0 C885.3,403.5 890.3,403.7 892.0,404.0" fill="none" stroke="#97dc99" stroke-width="10" stroke-linecap="round" stroke-linejoin="round"/>
<circle cx="871.3" cy="396.0" r="5.3" fill="#97dc99"/>
<circle cx="879.2" cy="398.6" r="5.3" fill="#97dc99"/>
<circle cx="885.5" cy="403.9" r="5.4" fill="#97dc99"/>
<circle cx="893.2" cy="404.0" r="5.2" fill="#97dc99"/>
</g>
<g filter="url(#shade3d)">
<path d="M875.0,319.0 C875.7,321.0 877.3,327.5 879.0,331.0 C880.7,334.5 883.7,335.8 885.0,340.0 C886.3,344.2 886.0,350.7 887.0,356.0 C888.0,361.3 891.2,366.3 891.0,372.0 C890.8,377.7 887.5,383.7 886.0,390.0 C884.5,396.3 881.8,403.3 882.0,410.0 C882.2,416.7 887.3,423.3 887.0,430.0 C886.7,436.7 880.5,443.3 880.0,450.0 C879.5,456.7 884.0,463.3 884.0,470.0 C884.0,476.7 880.7,486.7 880.0,490.0" fill="none" stroke="#aaeeaa" stroke-width="17" stroke-linecap="round" stroke-linejoin="round"/>
<circle cx="873.1" cy="319.6" r="8.9" fill="#aaeeaa"/>
<circle cx="879.5" cy="325.9" r="8.8" fill="#aaeeaa"/>
<circle cx="879.2" cy="334.9" r="9.0" fill="#aaeeaa"/>
<circle cx="887.1" cy="340.3" r="8.8" fill="#aaeeaa"/>
<circle cx="884.0" cy="348.7" r="8.8" fill="#aaeeaa"/>
<circle cx="889.1" cy="355.9" r="9.0" fill="#aaeeaa"/>
<circle cx="887.1" cy="364.7" r="9.3" fill="#aaeeaa"/>
<circle cx="893.0" cy="371.4" r="9.2" fill="#aaeeaa"/>
<circle cx="886.9" cy="379.1" r="9.2" fill="#aaeeaa"/>
<circle cx="888.7" cy="387.9" r="8.9" fill="#aaeeaa"/>
<circle cx="883.0" cy="394.7" r="9.1" fill="#aaeeaa"/>
<circle cx="885.4" cy="403.4" r="8.9" fill="#aaeeaa"/>
<circle cx="880.2" cy="411.3" r="8.9" fill="#aaeeaa"/>
<circle cx="886.1" cy="418.1" r="8.8" fill="#aaeeaa"/>
<circle cx="884.1" cy="426.8" r="8.9" fill="#aaeeaa"/>
<circle cx="887.5" cy="434.7" r="9.3" fill="#aaeeaa"/>
<circle cx="881.0" cy="440.9" r="9.2" fill="#aaeeaa"/>
<circle cx="882.2" cy="449.8" r="9.2" fill="#aaeeaa"/>
<circle cx="879.4" cy="457.3" r="9.2" fill="#aaeeaa"/>
<circle cx="884.9" cy="464.3" r="8.9" fill="#aaeeaa"/>
<circle cx="881.5" cy="472.2" r="8.9" fill="#aaeeaa"/>
<circle cx="883.9" cy="480.8" r="9.1" fill="#aaeeaa"/>
<circle cx="878.3" cy="487.9" r="9.2" fill="#aaeeaa"/>
<circle cx="882.0" cy="490.0" r="9.3" fill="#aaeeaa"/>
<ellipse cx="878.1" cy="344.6" rx="6.7" ry="6.0" transform="rotate(83 878.1 344.6)" fill="#aaeeaa"/>
<ellipse cx="895.4" cy="355.2" rx="10.0" ry="6.7" transform="rotate(76 895.4 355.2)" fill="#aaeeaa"/>
<ellipse cx="881.0" cy="381.6" rx="9.6" ry="6.9" transform="rotate(106 881.0 381.6)" fill="#aaeeaa"/>
<ellipse cx="878.2" cy="395.4" rx="7.9" ry="5.4" transform="rotate(101 878.2 395.4)" fill="#aaeeaa"/>
<ellipse cx="874.4" cy="411.9" rx="6.1" ry="4.9" transform="rotate(76 874.4 411.9)" fill="#aaeeaa"/>
<ellipse cx="877.7" cy="433.8" rx="8.8" ry="5.1" transform="rotate(109 877.7 433.8)" fill="#aaeeaa"/>
<ellipse cx="887.2" cy="451.5" rx="6.7" ry="5.8" transform="rotate(109 887.2 451.5)" fill="#aaeeaa"/>
<ellipse cx="875.4" cy="463.8" rx="7.3" ry="5.2" transform="rotate(79 875.4 463.8)" fill="#aaeeaa"/>
</g>
<g filter="url(#shade3d)">
<path d="M864.0,328.0 C866.0,329.3 871.7,333.7 876.0,336.0 C880.3,338.3 885.3,340.0 890.0,342.0 C894.7,344.0 901.7,347.0 904.0,348.0" fill="none" stroke="#aaeeaa" stroke-width="12" stroke-linecap="round" stroke-linejoin="round"/>
<circle cx="863.2" cy="329.2" r="6.5" fill="#aaeeaa"/>
<circle cx="871.5" cy="331.2" r="6.5" fill="#aaeeaa"/>
<circle cx="876.9" cy="337.9" r="6.4" fill="#aaeeaa"/>
<circle cx="885.4" cy="338.4" r="6.3" fill="#aaeeaa"/>
<circle cx="891.6" cy="344.2" r="6.2" fill="#aaeeaa"/>
<circle cx="900.1" cy="344.8" r="6.5" fill="#aaeeaa"/>
<circle cx="902.6" cy="348.0" r="6.4" fill="#aaeeaa"/>
<ellipse cx="889.4" cy="337.1" rx="6.4" ry="4.7" transform="rotate(23 889.4 337.1)" fill="#aaeeaa"/>
<ellipse cx="901.8" cy="342.7" rx="6.6" ry="4.3" transform="rotate(23 901.8 342.7)" fill="#aaeeaa"/>
</g>
<g filter="url(#shade3d)">
<path d="M858.0,321.0 C857.7,323.8 857.2,332.2 856.0,338.0 C854.8,343.8 851.5,350.3 851.0,356.0 C850.5,361.7 851.8,366.3 853.0,372.0 C854.2,377.7 858.0,384.5 858.0,390.0 C858.0,395.5 853.3,399.7 853.0,405.0 C852.7,410.3 856.3,416.2 856.0,422.0 C855.7,427.8 851.0,433.7 851.0,440.0 C851.0,446.3 854.3,453.3 856.0,460.0 C857.7,466.7 860.7,474.3 861.0,480.0 C861.3,485.7 858.5,491.7 858.0,494.0" fill="none" stroke="#aaeeaa" stroke-width="18" stroke-linecap="round" stroke-linejoin="round"/>
<circle cx="855.9" cy="320.7" r="9.4" fill="#aaeeaa"/>
<circle cx="859.2" cy="329.2" r="9.6" fill="#aaeeaa"/>
<circle cx="854.0" cy="336.6" r="9.5" fill="#aaeeaa"/>
<circle cx="856.2" cy="345.2" r="9.7" fill="#aaeeaa"/>
<circle cx="849.9" cy="351.8" r="9.7" fill="#aaeeaa"/>
<circle cx="853.7" cy="359.9" r="9.3" fill="#aaeeaa"/>
<circle cx="850.4" cy="368.4" r="9.3" fill="#aaeeaa"/>
<circle cx="856.2" cy="375.3" r="9.8" fill="#aaeeaa"/>
<circle cx="854.2" cy="384.2" r="9.4" fill="#aaeeaa"/>
<circle cx="859.6" cy="392.0" r="9.4" fill="#aaeeaa"/>
<circle cx="853.0" cy="398.2" r="9.9" fill="#aaeeaa"/>
<circle cx="855.4" cy="406.2" r="9.6" fill="#aaeeaa"/>
<circle cx="852.5" cy="414.8" r="9.8" fill="#aaeeaa"/>
<circle cx="858.0" cy="422.9" r="9.6" fill="#aaeeaa"/>
<circle cx="851.7" cy="429.4" r="9.7" fill="#aaeeaa"/>
<circle cx="853.7" cy="438.3" r="9.4" fill="#aaeeaa"/>
<circle cx="850.3" cy="446.0" r="9.7" fill="#aaeeaa"/>
<circle cx="856.4" cy="452.7" r="9.8" fill="#aaeeaa"/>
<circle cx="854.2" cy="461.5" r="9.6" fill="#aaeeaa"/>
<circle cx="860.3" cy="468.2" r="9.7" fill="#aaeeaa"/>
<circle cx="858.0" cy="477.0" r="9.7" fill="#aaeeaa"/>
<circle cx="862.2" cy="484.8" r="9.3" fill="#aaeeaa"/>
<circle cx="856.3" cy="491.7" r="9.7" fill="#aaeeaa"/>
<circle cx="860.2" cy="494.0" r="9.6" fill="#aaeeaa"/>
<ellipse cx="864.7" cy="335.5" rx="9.0" ry="5.7" transform="rotate(97 864.7 335.5)" fill="#aaeeaa"/>
<ellipse cx="844.9" cy="361.8" rx="8.3" ry="7.1" transform="rotate(83 844.9 361.8)" fill="#aaeeaa"/>
<ellipse cx="861.3" cy="402.7" rx="9.3" ry="5.7" transform="rotate(108 861.3 402.7)" fill="#aaeeaa"/>
<ellipse cx="843.8" cy="441.8" rx="8.1" ry="6.4" transform="rotate(76 843.8 441.8)" fill="#aaeeaa"/>
<ellipse cx="846.7" cy="455.1" rx="10.2" ry="7.4" transform="rotate(76 846.7 455.1)" fill="#aaeeaa"/>
<ellipse cx="849.6" cy="491.1" rx="8.9" ry="7.3" transform="rotate(102 849.6 491.1)" fill="#aaeeaa"/>
</g>
<g filter="url(#shade3d)">
<path d="M845.0,378.0 C846.8,379.0 852.2,382.3 856.0,384.0 C859.8,385.7 866.0,387.3 868.0,388.0" fill="none" stroke="#aaeeaa" stroke-width="10" stroke-linecap="round" stroke-linejoin="round"/>
<circle cx="844.4" cy="379.1" r="5.3" fill="#aaeeaa"/>
<circle cx="852.6" cy="380.8" r="5.2" fill="#aaeeaa"/>
<circle cx="858.9" cy="386.2" r="5.4" fill="#aaeeaa"/>
<circle cx="867.3" cy="386.5" r="5.2" fill="#aaeeaa"/>
<circle cx="866.8" cy="388.0" r="5.3" fill="#aaeeaa"/>
<ellipse cx="858.5" cy="379.8" rx="3.7" ry="3.1" transform="rotate(18 858.5 379.8)" fill="#aaeeaa"/>
</g>
<g filter="url(#shade3d)">
<path d="M860.0,412.0 C862.0,413.0 867.7,416.5 872.0,418.0 C876.3,419.5 883.7,420.5 886.0,421.0" fill="none" stroke="#aaeeaa" stroke-width="10" stroke-linecap="round" stroke-linejoin="round"/>
<circle cx="859.5" cy="413.1" r="5.2" fill="#aaeeaa"/>
<circle cx="867.7" cy="414.5" r="5.5" fill="#aaeeaa"/>
<circle cx="874.3" cy="419.7" r="5.2" fill="#aaeeaa"/>
<circle cx="882.6" cy="419.0" r="5.4" fill="#aaeeaa"/>
<circle cx="884.8" cy="421.0" r="5.2" fill="#aaeeaa"/>
<ellipse cx="873.0" cy="414.3" rx="4.7" ry="2.8" transform="rotate(12 873.0 414.3)" fill="#aaeeaa"/>
<ellipse cx="886.5" cy="416.2" rx="4.7" ry="3.4" transform="rotate(12 886.5 416.2)" fill="#aaeeaa"/>
</g>
<g filter="url(#shade3d)">
<path d="M822.0,474.0 C821.7,476.3 818.7,484.3 820.0,488.0 C821.3,491.7 825.7,494.5 830.0,496.0 C834.3,497.5 840.7,497.7 846.0,497.0 C851.3,496.3 856.7,492.5 862.0,492.0 C867.3,491.5 872.7,493.3 878.0,494.0 C883.3,494.7 891.3,495.7 894.0,496.0" fill="none" stroke="#aaeeaa" stroke-width="13" stroke-linecap="round" stroke-linejoin="round"/>
<circle cx="820.5" cy="473.8" r="6.9" fill="#aaeeaa"/>
<circle cx="822.4" cy="482.1" r="6.9" fill="#aaeeaa"/>
<circle cx="820.5" cy="490.4" r="7.1" fill="#aaeeaa"/>
<circle cx="828.7" cy="492.9" r="6.9" fill="#aaeeaa"/>
<circle cx="834.9" cy="497.9" r="6.9" fill="#aaeeaa"/>
<circle cx="843.1" cy="495.3" r="7.0" fill="#aaeeaa"/>
<circle cx="851.3" cy="497.0" r="6.8" fill="#aaeeaa"/>
<circle cx="858.0" cy="491.6" r="6.9" fill="#aaeeaa"/>
<circle cx="866.0" cy="494.1" r="7.0" fill="#aaeeaa"/>
<circle cx="874.4" cy="492.0" r="7.1" fill="#aaeeaa"/>
<circle cx="881.9" cy="496.1" r="6.7" fill="#aaeeaa"/>
<circle cx="890.2" cy="494.0" r="6.8" fill="#aaeeaa"/>
<circle cx="892.4" cy="496.0" r="6.7" fill="#aaeeaa"/>
<ellipse cx="843.4" cy="503.3" rx="6.6" ry="4.8" transform="rotate(4 843.4 503.3)" fill="#aaeeaa"/>
<ellipse cx="855.1" cy="487.8" rx="4.7" ry="3.8" transform="rotate(-17 855.1 487.8)" fill="#aaeeaa"/>
</g>
<g filter="url(#shade3d)">
<path d="M840.0,323.0 C839.7,325.8 839.0,334.5 838.0,340.0 C837.0,345.5 835.5,351.0 834.0,356.0 C832.5,361.0 829.7,364.3 829.0,370.0 C828.3,375.7 829.2,384.2 830.0,390.0 C830.8,395.8 833.8,399.7 834.0,405.0 C834.2,410.3 832.2,415.8 831.0,422.0 C829.8,428.2 828.3,435.3 827.0,442.0 C825.7,448.7 824.0,454.8 823.0,462.0 C822.0,469.2 821.3,481.2 821.0,485.0" fill="none" stroke="#aaeeaa" stroke-width="17" stroke-linecap="round" stroke-linejoin="round"/>
<circle cx="838.0" cy="322.8" r="8.8" fill="#aaeeaa"/>
<circle cx="841.1" cy="331.2" r="9.3" fill="#aaeeaa"/>
<circle cx="836.1" cy="338.7" r="9.2" fill="#aaeeaa"/>
<circle cx="838.3" cy="347.2" r="8.9" fill="#aaeeaa"/>
<circle cx="832.4" cy="353.9" r="9.0" fill="#aaeeaa"/>
<circle cx="833.8" cy="362.7" r="9.0" fill="#aaeeaa"/>
<circle cx="827.2" cy="368.9" r="9.1" fill="#aaeeaa"/>
<circle cx="831.4" cy="377.4" r="9.2" fill="#aaeeaa"/>
<circle cx="827.7" cy="385.6" r="8.8" fill="#aaeeaa"/>
<circle cx="832.9" cy="392.9" r="8.8" fill="#aaeeaa"/>
<circle cx="831.0" cy="401.6" r="9.3" fill="#aaeeaa"/>
<circle cx="835.3" cy="409.3" r="9.0" fill="#aaeeaa"/>
<circle cx="829.9" cy="416.4" r="9.2" fill="#aaeeaa"/>
<circle cx="832.5" cy="425.1" r="8.8" fill="#aaeeaa"/>
<circle cx="826.9" cy="432.1" r="9.0" fill="#aaeeaa"/>
<circle cx="829.3" cy="440.7" r="9.2" fill="#aaeeaa"/>
<circle cx="823.8" cy="447.8" r="8.9" fill="#aaeeaa"/>
<circle cx="826.2" cy="456.4" r="9.3" fill="#aaeeaa"/>
<circle cx="820.8" cy="463.7" r="9.3" fill="#aaeeaa"/>
<circle cx="824.2" cy="472.1" r="8.8" fill="#aaeeaa"/>
<circle cx="819.4" cy="479.7" r="8.8" fill="#aaeeaa"/>
<circle cx="823.0" cy="485.0" r="9.1" fill="#aaeeaa"/>
<ellipse cx="843.7" cy="351.8" rx="8.2" ry="6.5" transform="rotate(104 843.7 351.8)" fill="#aaeeaa"/>
<ellipse cx="840.8" cy="400.7" rx="9.9" ry="7.0" transform="rotate(75 840.8 400.7)" fill="#aaeeaa"/>
<ellipse cx="837.7" cy="417.0" rx="9.6" ry="7.1" transform="rotate(100 837.7 417.0)" fill="#aaeeaa"/>
<ellipse cx="821.5" cy="427.8" rx="8.1" ry="7.1" transform="rotate(101 821.5 427.8)" fill="#aaeeaa"/>
<ellipse cx="830.2" cy="457.2" rx="9.7" ry="6.2" transform="rotate(101 830.2 457.2)" fill="#aaeeaa"/>
<ellipse cx="827.9" cy="483.6" rx="7.7" ry="6.5" transform="rotate(95 827.9 483.6)" fill="#aaeeaa"/>
</g>
<g filter="url(#shade3d)">
<path d="M824.0,360.0 C825.5,360.3 831.5,361.7 833.0,362.0" fill="none" stroke="#aaeeaa" stroke-width="11" stroke-linecap="round" stroke-linejoin="round"/>
<circle cx="823.7" cy="361.3" r="6.0" fill="#aaeeaa"/>
<circle cx="832.1" cy="360.4" r="6.0" fill="#aaeeaa"/>
<circle cx="831.7" cy="362.0" r="5.7" fill="#aaeeaa"/>
</g>
<g filter="url(#cblur)">
<ellipse cx="839" cy="333" rx="8" ry="13" fill="#fff" opacity="0.45"/>
<ellipse cx="824" cy="488" rx="9" ry="10" fill="#fff" opacity="0.3"/>
</g>
<g filter="url(#cblur)">
<ellipse cx="851.5" cy="383" rx="4" ry="5" fill="#2f6a36" opacity="0.75"/>
<ellipse cx="874" cy="366.5" rx="5" ry="4.5" fill="#2f6a36" opacity="0.7"/>
<ellipse cx="869" cy="397" rx="4.5" ry="4.5" fill="#2f6a36" opacity="0.7"/>
<ellipse cx="884" cy="413" rx="5" ry="9" fill="#2f6a36" opacity="0.6"/>
<ellipse cx="855" cy="429" rx="6" ry="5" fill="#2f6a36" opacity="0.7"/>
<ellipse cx="880.5" cy="447" rx="5" ry="7" fill="#2f6a36" opacity="0.6"/>
<ellipse cx="866" cy="464" rx="3.5" ry="7" fill="#2f6a36" opacity="0.6"/>
<ellipse cx="849.7" cy="353" rx="3.5" ry="4" fill="#2f6a36" opacity="0.6"/>
<ellipse cx="899" cy="390" rx="3.5" ry="8" fill="#2f6a36" opacity="0.5"/>
<ellipse cx="838" cy="440" rx="3" ry="6" fill="#2f6a36" opacity="0.4"/>
</g>
<g fill="#fff" filter="url(#eblur)">
<ellipse cx="845.5" cy="372" rx="3" ry="5"/>
<ellipse cx="895" cy="355" rx="5" ry="4.5"/>
<ellipse cx="868" cy="429" rx="3.5" ry="4.5"/>
<ellipse cx="882" cy="355" rx="3" ry="3"/>
<ellipse cx="869" cy="447" rx="2.5" ry="2.5"/>
</g>
<g filter="url(#shade3d)">
<path d="M934.0,450.0 C937.0,446.7 943.3,445.7 948.0,446.0 C952.7,446.3 959.3,447.7 962.0,452.0 C964.7,456.3 964.7,465.7 964.0,472.0 C963.3,478.3 961.3,486.3 958.0,490.0 C954.7,493.7 948.3,494.7 944.0,494.0 C939.7,493.3 934.3,490.7 932.0,486.0 C929.7,481.3 929.7,472.0 930.0,466.0 C930.3,460.0 931.0,453.3 934.0,450.0Z" fill="#9a7a54"/>
<path d="M998.0,360.0 C1000.3,355.7 1005.7,359.0 1008.0,364.0 C1010.3,369.0 1011.7,380.7 1012.0,390.0 C1012.3,399.3 1011.7,411.7 1010.0,420.0 C1008.3,428.3 1004.7,438.3 1002.0,440.0 C999.3,441.7 995.3,438.3 994.0,430.0 C992.7,421.7 993.3,401.7 994.0,390.0 C994.7,378.3 995.7,364.3 998.0,360.0Z" fill="#c4a27a"/>
</g>
<g filter="url(#shade3d)">
<path d="M953.0,338.0 C953.5,340.3 955.0,347.3 956.0,352.0 C957.0,356.7 958.5,363.7 959.0,366.0" fill="none" stroke="#ecdcc4" stroke-width="10" stroke-linecap="round" stroke-linejoin="round"/>
<circle cx="951.8" cy="338.3" r="5.5" fill="#ecdcc4"/>
<circle cx="955.8" cy="345.6" r="5.4" fill="#ecdcc4"/>
<circle cx="955.2" cy="353.9" r="5.4" fill="#ecdcc4"/>
<circle cx="959.2" cy="361.2" r="5.5" fill="#ecdcc4"/>
<circle cx="957.8" cy="366.0" r="5.2" fill="#ecdcc4"/>
</g>
<g filter="url(#shade3d)">
<path d="M1004.0,362.0 C1004.5,366.7 1006.3,380.7 1007.0,390.0 C1007.7,399.3 1008.7,409.7 1008.0,418.0 C1007.3,426.3 1003.8,436.3 1003.0,440.0" fill="none" stroke="#c4a27a" stroke-width="11" stroke-linecap="round" stroke-linejoin="round"/>
<circle cx="1002.7" cy="362.1" r="5.8" fill="#c4a27a"/>
<circle cx="1006.2" cy="369.8" r="6.0" fill="#c4a27a"/>
<circle cx="1004.4" cy="378.0" r="6.0" fill="#c4a27a"/>
<circle cx="1007.9" cy="385.7" r="5.7" fill="#c4a27a"/>
<circle cx="1005.8" cy="393.9" r="6.0" fill="#c4a27a"/>
<circle cx="1008.7" cy="401.8" r="5.9" fill="#c4a27a"/>
<circle cx="1006.4" cy="409.9" r="5.7" fill="#c4a27a"/>
<circle cx="1009.3" cy="417.8" r="6.0" fill="#c4a27a"/>
<circle cx="1005.0" cy="425.3" r="5.8" fill="#c4a27a"/>
<circle cx="1005.8" cy="433.7" r="5.8" fill="#c4a27a"/>
<circle cx="1001.7" cy="440.0" r="5.8" fill="#c4a27a"/>
<ellipse cx="1011.3" cy="388.6" rx="5.6" ry="4.3" transform="rotate(84 1011.3 388.6)" fill="#c4a27a"/>
<ellipse cx="1003.5" cy="416.4" rx="6.3" ry="3.9" transform="rotate(88 1003.5 416.4)" fill="#c4a27a"/>
</g>
<g filter="url(#shade3d)">
<path d="M952.0,432.0 C950.7,436.2 946.3,448.8 944.0,457.0 C941.7,465.2 939.7,472.3 938.0,481.0 C936.3,489.7 934.3,500.5 934.0,509.0 C933.7,517.5 935.7,528.2 936.0,532.0" fill="none" stroke="#d9b78a" stroke-width="14" stroke-linecap="round" stroke-linejoin="round"/>
<circle cx="950.4" cy="431.5" r="7.6" fill="#d9b78a"/>
<circle cx="951.2" cy="440.1" r="7.3" fill="#d9b78a"/>
<circle cx="945.5" cy="446.7" r="7.3" fill="#d9b78a"/>
<circle cx="946.3" cy="455.4" r="7.5" fill="#d9b78a"/>
<circle cx="941.0" cy="462.2" r="7.2" fill="#d9b78a"/>
<circle cx="942.3" cy="470.7" r="7.6" fill="#d9b78a"/>
<circle cx="937.1" cy="477.7" r="7.6" fill="#d9b78a"/>
<circle cx="939.0" cy="486.2" r="7.2" fill="#d9b78a"/>
<circle cx="934.5" cy="493.6" r="7.5" fill="#d9b78a"/>
<circle cx="936.7" cy="502.0" r="7.5" fill="#d9b78a"/>
<circle cx="932.4" cy="509.9" r="7.5" fill="#d9b78a"/>
<circle cx="936.4" cy="517.5" r="7.7" fill="#d9b78a"/>
<circle cx="933.8" cy="525.8" r="7.7" fill="#d9b78a"/>
<circle cx="937.7" cy="532.0" r="7.4" fill="#d9b78a"/>
<ellipse cx="942.1" cy="485.0" rx="6.6" ry="4.3" transform="rotate(98 942.1 485.0)" fill="#d9b78a"/>
<ellipse cx="940.7" cy="510.8" rx="8.3" ry="4.0" transform="rotate(85 940.7 510.8)" fill="#d9b78a"/>
<ellipse cx="941.0" cy="524.4" rx="6.5" ry="5.2" transform="rotate(85 941.0 524.4)" fill="#d9b78a"/>
</g>
<g filter="url(#shade3d)">
<path d="M992.5,322.0 C992.2,325.7 991.5,336.3 990.5,344.0 C989.5,351.7 987.4,359.9 986.4,368.0 C985.4,376.1 984.4,383.7 984.4,392.5 C984.4,401.3 986.7,410.6 986.4,420.6 C986.1,430.7 983.4,444.7 982.4,452.8 C981.4,460.9 980.7,466.3 980.4,469.0" fill="none" stroke="#f3d0a0" stroke-width="12.5" stroke-linecap="round" stroke-linejoin="round"/>
<circle cx="991.0" cy="321.9" r="6.7" fill="#f3d0a0"/>
<circle cx="993.3" cy="330.1" r="6.8" fill="#f3d0a0"/>
<circle cx="989.6" cy="337.8" r="6.5" fill="#f3d0a0"/>
<circle cx="991.7" cy="346.1" r="6.9" fill="#f3d0a0"/>
<circle cx="987.4" cy="353.5" r="6.5" fill="#f3d0a0"/>
<circle cx="989.0" cy="361.9" r="6.7" fill="#f3d0a0"/>
<circle cx="984.8" cy="369.4" r="6.5" fill="#f3d0a0"/>
<circle cx="987.1" cy="377.7" r="6.8" fill="#f3d0a0"/>
<circle cx="983.5" cy="385.4" r="6.5" fill="#f3d0a0"/>
<circle cx="986.0" cy="393.4" r="6.7" fill="#f3d0a0"/>
<circle cx="983.5" cy="401.6" r="6.8" fill="#f3d0a0"/>
<circle cx="987.1" cy="409.3" r="6.8" fill="#f3d0a0"/>
<circle cx="984.7" cy="417.5" r="6.6" fill="#f3d0a0"/>
<circle cx="987.3" cy="425.6" r="6.8" fill="#f3d0a0"/>
<circle cx="983.3" cy="433.1" r="6.9" fill="#f3d0a0"/>
<circle cx="985.3" cy="441.4" r="6.5" fill="#f3d0a0"/>
<circle cx="981.4" cy="449.0" r="6.7" fill="#f3d0a0"/>
<circle cx="983.4" cy="457.3" r="6.9" fill="#f3d0a0"/>
<circle cx="979.4" cy="464.9" r="6.8" fill="#f3d0a0"/>
<circle cx="981.9" cy="469.0" r="6.6" fill="#f3d0a0"/>
<ellipse cx="996.7" cy="336.0" rx="6.3" ry="3.9" transform="rotate(95 996.7 336.0)" fill="#f3d0a0"/>
<ellipse cx="980.4" cy="375.5" rx="5.0" ry="3.6" transform="rotate(95 980.4 375.5)" fill="#f3d0a0"/>
<ellipse cx="989.2" cy="389.9" rx="6.2" ry="3.9" transform="rotate(95 989.2 389.9)" fill="#f3d0a0"/>
<ellipse cx="979.3" cy="403.5" rx="6.7" ry="4.0" transform="rotate(86 979.3 403.5)" fill="#f3d0a0"/>
<ellipse cx="979.5" cy="429.4" rx="5.4" ry="4.6" transform="rotate(97 979.5 429.4)" fill="#f3d0a0"/>
<ellipse cx="988.4" cy="444.2" rx="6.0" ry="4.0" transform="rotate(97 988.4 444.2)" fill="#f3d0a0"/>
<ellipse cx="985.8" cy="457.6" rx="5.4" ry="3.7" transform="rotate(97 985.8 457.6)" fill="#f3d0a0"/>
</g>
<g filter="url(#shade3d)">
<path d="M986.0,382.0 C988.3,379.8 995.2,373.2 1000.0,369.0 C1004.8,364.8 1010.2,361.2 1015.0,357.0 C1019.8,352.8 1025.5,349.0 1029.0,344.0 C1032.5,339.0 1034.8,329.8 1036.0,327.0" fill="none" stroke="#f3d0a0" stroke-width="12.5" stroke-linecap="round" stroke-linejoin="round"/>
<circle cx="987.0" cy="383.1" r="6.8" fill="#f3d0a0"/>
<circle cx="990.8" cy="375.5" r="6.9" fill="#f3d0a0"/>
<circle cx="998.7" cy="372.2" r="6.8" fill="#f3d0a0"/>
<circle cx="1002.9" cy="364.8" r="6.5" fill="#f3d0a0"/>
<circle cx="1011.0" cy="362.1" r="6.7" fill="#f3d0a0"/>
<circle cx="1015.2" cy="354.8" r="6.6" fill="#f3d0a0"/>
<circle cx="1023.1" cy="351.5" r="6.7" fill="#f3d0a0"/>
<circle cx="1026.9" cy="343.9" r="6.5" fill="#f3d0a0"/>
<circle cx="1032.9" cy="338.5" r="6.5" fill="#f3d0a0"/>
<circle cx="1033.2" cy="329.9" r="6.6" fill="#f3d0a0"/>
<circle cx="1034.5" cy="327.0" r="6.5" fill="#f3d0a0"/>
<ellipse cx="993.2" cy="369.8" rx="5.9" ry="5.2" transform="rotate(-43 993.2 369.8)" fill="#f3d0a0"/>
<ellipse cx="1009.2" cy="367.6" rx="6.8" ry="3.6" transform="rotate(-39 1009.2 367.6)" fill="#f3d0a0"/>
</g>
<g filter="url(#shade3d)">
<path d="M1034.0,324.0 C1034.8,325.7 1038.2,332.3 1039.0,334.0" fill="none" stroke="#f3d0a0" stroke-width="13" stroke-linecap="round" stroke-linejoin="round"/>
<circle cx="1032.6" cy="324.7" r="6.9" fill="#f3d0a0"/>
<circle cx="1039.0" cy="330.5" r="6.9" fill="#f3d0a0"/>
<circle cx="1037.4" cy="334.0" r="7.1" fill="#f3d0a0"/>
</g>
<g filter="url(#shade3d)">
<path d="M968.0,325.0 C967.3,329.5 965.3,342.8 964.0,352.0 C962.7,361.2 961.3,371.3 960.0,380.0 C958.7,388.7 957.3,395.3 956.0,404.0 C954.7,412.7 952.7,427.3 952.0,432.0" fill="none" stroke="#f3d0a0" stroke-width="14" stroke-linecap="round" stroke-linejoin="round"/>
<circle cx="966.3" cy="324.8" r="7.3" fill="#f3d0a0"/>
<circle cx="968.5" cy="333.2" r="7.5" fill="#f3d0a0"/>
<circle cx="964.0" cy="340.6" r="7.5" fill="#f3d0a0"/>
<circle cx="966.1" cy="349.0" r="7.4" fill="#f3d0a0"/>
<circle cx="961.7" cy="356.4" r="7.3" fill="#f3d0a0"/>
<circle cx="963.9" cy="364.8" r="7.6" fill="#f3d0a0"/>
<circle cx="959.4" cy="372.3" r="7.6" fill="#f3d0a0"/>
<circle cx="961.6" cy="380.7" r="7.5" fill="#f3d0a0"/>
<circle cx="957.0" cy="388.0" r="7.5" fill="#f3d0a0"/>
<circle cx="959.0" cy="396.5" r="7.3" fill="#f3d0a0"/>
<circle cx="954.3" cy="403.9" r="7.2" fill="#f3d0a0"/>
<circle cx="956.5" cy="412.2" r="7.4" fill="#f3d0a0"/>
<circle cx="952.1" cy="419.7" r="7.5" fill="#f3d0a0"/>
<circle cx="954.3" cy="428.1" r="7.2" fill="#f3d0a0"/>
<circle cx="950.3" cy="432.0" r="7.6" fill="#f3d0a0"/>
<ellipse cx="972.1" cy="339.4" rx="8.4" ry="4.8" transform="rotate(98 972.1 339.4)" fill="#f3d0a0"/>
<ellipse cx="957.8" cy="364.8" rx="6.6" ry="4.6" transform="rotate(98 957.8 364.8)" fill="#f3d0a0"/>
<ellipse cx="955.9" cy="378.2" rx="5.2" ry="5.4" transform="rotate(98 955.9 378.2)" fill="#f3d0a0"/>
<ellipse cx="961.4" cy="406.5" rx="6.6" ry="4.6" transform="rotate(98 961.4 406.5)" fill="#f3d0a0"/>
<ellipse cx="959.3" cy="419.9" rx="5.2" ry="5.5" transform="rotate(98 959.3 419.9)" fill="#f3d0a0"/>
</g>
<g filter="url(#shade3d)">
<path d="M971.0,382.0 C970.2,388.3 966.5,406.8 966.0,420.0 C965.5,433.2 968.3,448.8 968.0,461.0 C967.7,473.2 964.3,483.2 964.0,493.0 C963.7,502.8 965.7,515.5 966.0,520.0" fill="none" stroke="#f3d0a0" stroke-width="16" stroke-linecap="round" stroke-linejoin="round"/>
<circle cx="969.1" cy="381.7" r="8.6" fill="#f3d0a0"/>
<circle cx="971.9" cy="390.2" r="8.6" fill="#f3d0a0"/>
<circle cx="967.0" cy="397.6" r="8.8" fill="#f3d0a0"/>
<circle cx="969.8" cy="406.0" r="8.3" fill="#f3d0a0"/>
<circle cx="964.9" cy="413.5" r="8.3" fill="#f3d0a0"/>
<circle cx="968.0" cy="421.6" r="8.7" fill="#f3d0a0"/>
<circle cx="964.6" cy="429.8" r="8.4" fill="#f3d0a0"/>
<circle cx="968.8" cy="437.6" r="8.4" fill="#f3d0a0"/>
<circle cx="965.3" cy="445.7" r="8.7" fill="#f3d0a0"/>
<circle cx="969.6" cy="453.5" r="8.3" fill="#f3d0a0"/>
<circle cx="966.0" cy="461.4" r="8.7" fill="#f3d0a0"/>
<circle cx="968.8" cy="469.8" r="8.5" fill="#f3d0a0"/>
<circle cx="964.0" cy="477.3" r="8.3" fill="#f3d0a0"/>
<circle cx="966.9" cy="485.7" r="8.8" fill="#f3d0a0"/>
<circle cx="962.1" cy="493.5" r="8.6" fill="#f3d0a0"/>
<circle cx="966.5" cy="501.2" r="8.3" fill="#f3d0a0"/>
<circle cx="963.3" cy="509.5" r="8.7" fill="#f3d0a0"/>
<circle cx="967.7" cy="517.2" r="8.7" fill="#f3d0a0"/>
<circle cx="964.1" cy="520.0" r="8.7" fill="#f3d0a0"/>
<ellipse cx="960.5" cy="422.7" rx="7.0" ry="5.9" transform="rotate(87 960.5 422.7)" fill="#f3d0a0"/>
<ellipse cx="975.6" cy="464.2" rx="9.2" ry="6.2" transform="rotate(97 975.6 464.2)" fill="#f3d0a0"/>
<ellipse cx="969.7" cy="490.9" rx="6.7" ry="6.1" transform="rotate(97 969.7 490.9)" fill="#f3d0a0"/>
<ellipse cx="972.0" cy="516.8" rx="9.2" ry="4.8" transform="rotate(86 972.0 516.8)" fill="#f3d0a0"/>
</g>
<g filter="url(#eblur)" opacity="0.6">
<ellipse cx="941" cy="362" rx="6" ry="22" fill="#c590e8" transform="rotate(6 941 362)"/>
<ellipse cx="940.5" cy="412" rx="5" ry="13" fill="#c9a0e6" transform="rotate(-5 940.5 412)"/>
</g>
<g filter="url(#shadeSoft)" opacity="0.5">
<path d="M906.0,382.0 C907.0,383.7 910.5,388.7 912.0,392.0 C913.5,395.3 914.5,400.3 915.0,402.0" fill="none" stroke="#b8d4b8" stroke-width="9" stroke-linecap="round" stroke-linejoin="round"/>
<circle cx="905.1" cy="382.6" r="4.6" fill="#b8d4b8"/>
<circle cx="911.0" cy="388.3" r="4.7" fill="#b8d4b8"/>
<circle cx="912.2" cy="396.5" r="4.8" fill="#b8d4b8"/>
<circle cx="916.1" cy="402.0" r="4.9" fill="#b8d4b8"/>
<ellipse cx="916.1" cy="392.8" rx="3.5" ry="3.4" transform="rotate(73 916.1 392.8)" fill="#b8d4b8"/>
<path d="M900.0,446.0 C901.0,448.3 904.3,455.0 906.0,460.0 C907.7,465.0 909.3,473.3 910.0,476.0" fill="none" stroke="#b8d8b8" stroke-width="11" stroke-linecap="round" stroke-linejoin="round"/>
<circle cx="898.8" cy="446.5" r="5.7" fill="#b8d8b8"/>
<circle cx="904.4" cy="452.8" r="5.7" fill="#b8d8b8"/>
<circle cx="904.9" cy="461.1" r="5.8" fill="#b8d8b8"/>
<circle cx="909.4" cy="468.2" r="6.0" fill="#b8d8b8"/>
<circle cx="908.7" cy="476.0" r="5.9" fill="#b8d8b8"/>
<ellipse cx="903.9" cy="472.9" rx="6.4" ry="3.9" transform="rotate(76 903.9 472.9)" fill="#b8d8b8"/>
</g>
<g filter="url(#shade3d)">
<path d="M918.0,342.0 C919.2,338.3 922.8,338.0 925.0,338.0 C927.2,338.0 930.0,339.0 931.0,342.0 C932.0,345.0 931.5,351.3 931.0,356.0 C930.5,360.7 929.2,366.0 928.0,370.0 C926.8,374.0 925.5,379.0 924.0,380.0 C922.5,381.0 920.0,379.3 919.0,376.0 C918.0,372.7 918.2,365.7 918.0,360.0 C917.8,354.3 916.8,345.7 918.0,342.0Z" fill="#a010ee"/>
<path d="M929.0,357.0 C930.3,355.3 933.7,357.5 935.0,360.0 C936.3,362.5 937.2,368.0 937.0,372.0 C936.8,376.0 935.3,382.3 934.0,384.0 C932.7,385.7 930.2,384.3 929.0,382.0 C927.8,379.7 927.0,374.2 927.0,370.0 C927.0,365.8 927.7,358.7 929.0,357.0Z" fill="#a010ee"/>
<path d="M903.0,408.0 C904.8,404.2 908.0,404.3 910.0,405.0 C912.0,405.7 913.5,408.7 915.0,412.0 C916.5,415.3 918.2,420.3 919.0,425.0 C919.8,429.7 920.0,435.0 920.0,440.0 C920.0,445.0 920.2,451.8 919.0,455.0 C917.8,458.2 915.3,459.0 913.0,459.0 C910.7,459.0 907.2,457.5 905.0,455.0 C902.8,452.5 901.0,448.5 900.0,444.0 C899.0,439.5 898.5,434.0 899.0,428.0 C899.5,422.0 901.2,411.8 903.0,408.0Z" fill="#a010ee"/>
<path d="M925.0,406.0 C926.5,403.5 929.5,403.0 931.0,405.0 C932.5,407.0 933.0,413.5 934.0,418.0 C935.0,422.5 936.2,427.0 937.0,432.0 C937.8,437.0 938.7,443.0 938.5,448.0 C938.3,453.0 937.4,458.8 936.0,462.0 C934.6,465.2 932.0,467.3 930.0,467.0 C928.0,466.7 925.3,464.5 924.0,460.0 C922.7,455.5 922.3,446.7 922.0,440.0 C921.7,433.3 921.5,425.7 922.0,420.0 C922.5,414.3 923.5,408.5 925.0,406.0Z" fill="#a010ee"/>
<ellipse cx="995.5" cy="445" rx="5" ry="22" fill="#a010ee" transform="rotate(14 995.5 445)"/>
</g>
<path d="M933,371 L818,414.2 L916.6,437.3" fill="none" stroke="#231815" stroke-width="1.1"/>
</svg>
<div class="cap" id="cap">图1.Fc<span class="ep">ε</span>RI受体的表达纯化以及生化鉴定</div>
</body></html>
